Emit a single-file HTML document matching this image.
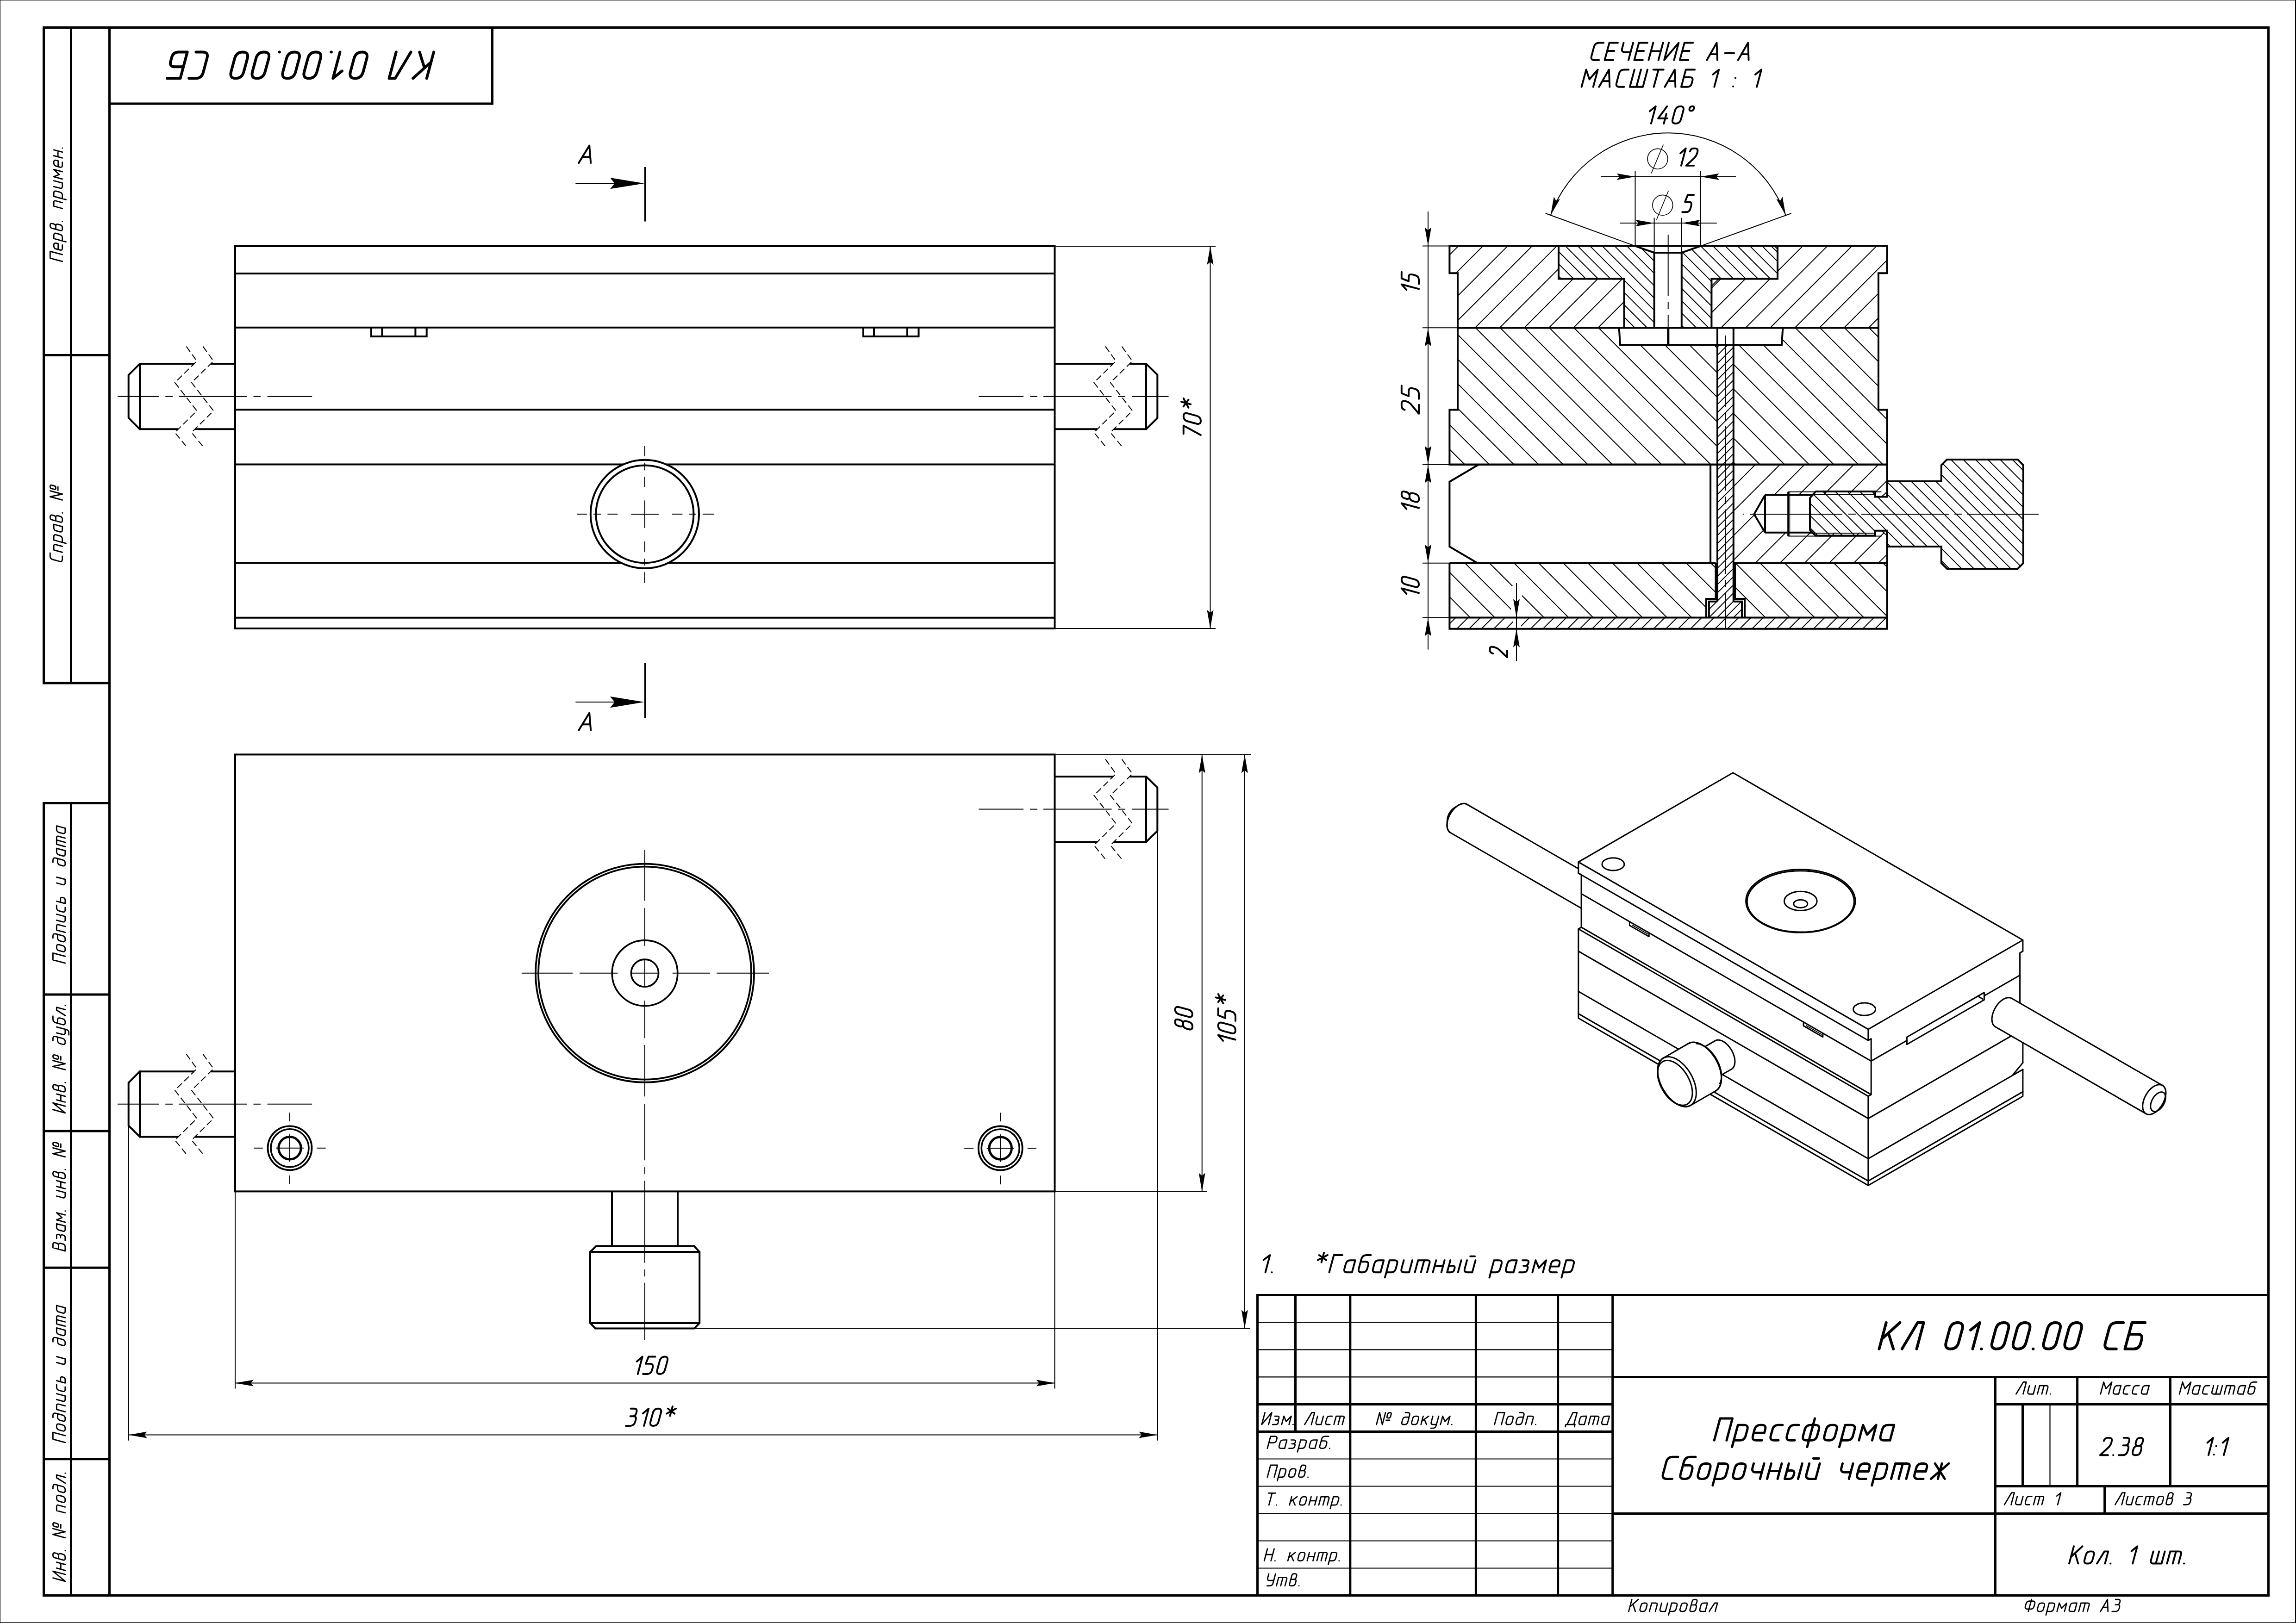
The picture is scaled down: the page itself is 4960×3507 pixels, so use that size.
<!DOCTYPE html>
<html><head><meta charset="utf-8"><title>КЛ 01.00.00 СБ</title>
<style>html,body{margin:0;padding:0;background:#fff}svg{display:block}
svg text{font-family:"Liberation Sans",sans-serif;font-style:italic;fill:#000;stroke:none}</style></head>
<body><svg xmlns="http://www.w3.org/2000/svg" width="4960" height="3507" viewBox="0 0 4960 3507" fill="none" stroke="#000" stroke-linecap="butt" stroke-linejoin="miter">
<rect x="0" y="0" width="4960" height="3507" fill="#fff" stroke="none"/>
<path d="M0.5 0L0.5 3507" stroke-width="1"/>
<path d="M0 0.5L4960 0.5" stroke-width="1"/>
<path d="M4959 0L4959 3507" stroke-width="2"/>
<path d="M0 3506.2L4960 3506.2" stroke-width="1.6"/>
<rect x="236.5" y="59.5" width="4664" height="3388" stroke-width="5"/>
<path d="M94.5 57L94.5 1478.5" stroke-width="5"/>
<path d="M153.5 59.5L153.5 1476" stroke-width="5"/>
<path d="M94.5 59.5L236.5 59.5" stroke-width="5"/>
<path d="M94.5 767.5L236.5 767.5" stroke-width="5"/>
<path d="M94.5 1476L236.5 1476" stroke-width="5"/>
<path d="M94.5 1733L94.5 3450" stroke-width="5"/>
<path d="M153.5 1735.5L153.5 3447.5" stroke-width="5"/>
<path d="M94.5 1735.5L236.5 1735.5" stroke-width="5"/>
<path d="M94.5 2149L236.5 2149" stroke-width="5"/>
<path d="M94.5 2444L236.5 2444" stroke-width="5"/>
<path d="M94.5 2739.3L236.5 2739.3" stroke-width="5"/>
<path d="M94.5 3152.7L236.5 3152.7" stroke-width="5"/>
<path d="M94.5 3447.5L236.5 3447.5" stroke-width="5"/>
<path d="M236.5 224L1063.5 224" stroke-width="5"/>
<path d="M1063.5 59.5L1063.5 226.5" stroke-width="5"/>
<path d="M2716.5 2798.4L4900.5 2798.4" stroke-width="5"/>
<path d="M2716.5 2795.9L2716.5 3447.5" stroke-width="5"/>
<path d="M2798.5 2798.4L2798.5 3093.5" stroke-width="5"/>
<path d="M2916.8 2798.4L2916.8 3447.5" stroke-width="5"/>
<path d="M3188.4 2798.4L3188.4 3447.5" stroke-width="5"/>
<path d="M3365.6 2798.4L3365.6 3447.5" stroke-width="5"/>
<path d="M3483.7 2798.4L3483.7 3447.5" stroke-width="5"/>
<path d="M2716.5 2857.4L3483.7 2857.4" stroke-width="2.2"/>
<path d="M2716.5 2916.4L3483.7 2916.4" stroke-width="2.2"/>
<path d="M2716.5 2975.4L3483.7 2975.4" stroke-width="2.2"/>
<path d="M2716.5 3034.4L3483.7 3034.4" stroke-width="5"/>
<path d="M2716.5 3093.5L3483.7 3093.5" stroke-width="5"/>
<path d="M2716.5 3152.5L3483.7 3152.5" stroke-width="2.2"/>
<path d="M2716.5 3211.5L3483.7 3211.5" stroke-width="2.2"/>
<path d="M2716.5 3270.5L3483.7 3270.5" stroke-width="2.2"/>
<path d="M2716.5 3329.5L3483.7 3329.5" stroke-width="2.2"/>
<path d="M2716.5 3388.5L3483.7 3388.5" stroke-width="2.2"/>
<path d="M3483.7 2975.4L4900.5 2975.4" stroke-width="5"/>
<path d="M3483.7 3270.5L4900.5 3270.5" stroke-width="5"/>
<path d="M4310.4 2975.4L4310.4 3447.5" stroke-width="5"/>
<path d="M4310.4 3034.4L4900.5 3034.4" stroke-width="5"/>
<path d="M4310.4 3211.5L4900.5 3211.5" stroke-width="5"/>
<path d="M4487.6 2975.4L4487.6 3211.5" stroke-width="5"/>
<path d="M4688.4 2975.4L4688.4 3211.5" stroke-width="5"/>
<path d="M4369.5 3034.4L4369.5 3211.5" stroke-width="5"/>
<path d="M4428.5 3034.4L4428.5 3211.5" stroke-width="2.2"/>
<path d="M4546.6 3211.5L4546.6 3270.5" stroke-width="5"/>
<path transform="translate(2724.3 3079.6) rotate(0) translate(1.4 -1.4)" d="M6.9 -25.9L0.0 0.0L21.7 -25.9L14.8 0.0M28.3 -18.1L34.2 -18.1Q38.2 -18.1 37.1 -14.0L37.1 -13.7Q36.0 -9.8 32.2 -9.8L29.6 -9.8M29.6 -9.8L33.0 -9.8Q37.0 -9.8 35.9 -5.7L35.6 -4.4Q34.4 0.0 30.1 -0.0L23.4 0.0M43.1 0.0L47.9 -18.1L52.8 -6.7L63.7 -18.1L58.9 0.0M67.5 0.0L67.8 0.0" stroke-width="2.72" stroke-linecap="round" stroke-linejoin="round"/>
<path transform="translate(2817 3079.6) rotate(0) translate(1.4 -1.4)" d="M0.0 0.0L15.5 -25.9L21.5 -25.9L14.6 0.0M28.0 -18.1L24.5 -5.4Q23.1 0.0 28.4 -0.0L35.6 0.0M40.5 -18.1L35.6 0.0M59.6 -18.1L54.3 -18.1Q49.0 -18.1 47.6 -12.7L45.6 -5.4Q44.2 0.0 49.4 -0.0L54.7 0.0M63.2 0.0L68.1 -18.1L82.2 -18.1Q86.2 -18.1 85.1 -14.0L81.3 0.0M77.1 -18.1L72.3 0.0" stroke-width="2.72" stroke-linecap="round" stroke-linejoin="round"/>
<path transform="translate(2972.1 3079.6) rotate(0) translate(1.4 -1.4)" d="M0.0 0.0L6.9 -25.9L12.7 0.0L19.6 -25.9M25.8 -14.0L26.1 -14.0Q29.6 -14.0 30.6 -17.6L31.8 -22.3Q32.8 -25.9 29.3 -25.9L28.8 -25.9Q25.2 -25.9 24.2 -22.3L23.0 -17.6Q22.0 -14.0 25.6 -14.0L25.8 -14.0M20.8 -9.3L28.4 -9.3M62.5 -25.9L67.1 -25.9Q73.2 -25.9 71.5 -19.7L67.7 -5.4Q66.2 0.0 60.9 -0.0L58.9 -0.0Q53.5 0.0 55.0 -5.4L56.4 -10.6Q57.8 -16.1 63.2 -16.1L70.5 -16.1M81.2 0.0L82.2 -0.0Q87.5 0.0 89.0 -5.4L90.9 -12.7Q92.4 -18.1 87.1 -18.1L85.0 -18.1Q79.7 -18.1 78.2 -12.7L76.3 -5.4Q74.8 0.0 80.2 -0.0L81.2 0.0M96.2 0.0L101.0 -18.1M98.1 -7.3L112.7 -18.1M103.5 -11.1L108.3 0.0M121.8 -18.1L118.4 -5.4Q117.0 0.0 122.3 -0.0L129.6 0.0M134.5 -18.1L129.0 2.3Q127.6 7.8 122.2 7.8L117.4 7.8M138.3 0.0L143.1 -18.1L147.9 -6.7L158.9 -18.1L154.0 0.0M162.6 0.0L162.9 0.0" stroke-width="2.72" stroke-linecap="round" stroke-linejoin="round"/>
<path transform="translate(3227.2 3079.6) rotate(0) translate(1.4 -1.4)" d="M0.0 0.0L6.9 -25.9L21.9 -25.9L14.9 0.0M30.1 0.0L31.1 -0.0Q36.5 0.0 38.0 -5.4L39.9 -12.7Q41.4 -18.1 36.0 -18.1L33.9 -18.1Q28.5 -18.1 27.1 -12.7L25.1 -5.4Q23.7 0.0 29.1 -0.0L30.1 0.0M54.3 -25.9L58.9 -25.9Q65.1 -25.9 63.4 -19.7L59.6 -5.4Q58.2 0.0 52.8 -0.0L50.7 -0.0Q45.3 0.0 46.7 -5.4L48.1 -10.6Q49.6 -16.1 55.0 -16.1L62.5 -16.1M66.9 0.0L71.8 -18.1L80.5 -18.1Q84.6 -18.1 83.5 -14.0L79.8 0.0M88.5 0.0L88.8 0.0" stroke-width="2.72" stroke-linecap="round" stroke-linejoin="round"/>
<path transform="translate(3380.1 3079.6) rotate(0) translate(4.2 -1.4)" d="M-2.8 4.7L-1.6 0.0L18.1 0.0L16.9 4.7M1.0 0.0L13.7 -25.9L22.5 -25.9L15.6 0.0M43.2 -18.1L35.7 -18.1Q30.3 -18.1 28.8 -12.7L26.9 -5.4Q25.4 0.0 30.8 -0.0L38.4 0.0M43.2 -18.1L38.4 0.0M47.2 0.0L52.0 -18.1L66.6 -18.1Q70.7 -18.1 69.6 -14.0L65.8 0.0M61.4 -18.1L56.5 0.0M92.5 -18.1L85.0 -18.1Q79.5 -18.1 78.1 -12.7L76.1 -5.4Q74.7 0.0 80.1 -0.0L87.6 0.0M92.5 -18.1L87.6 0.0" stroke-width="2.72" stroke-linecap="round" stroke-linejoin="round"/>
<path transform="translate(2736.5 3131) rotate(0) translate(1.4 -1.4)" d="M0.0 0.0L6.9 -25.9L16.3 -25.9Q21.9 -25.9 20.4 -20.5L19.6 -17.4Q18.1 -11.9 12.5 -11.9L3.2 -11.9M42.2 -18.1L34.5 -18.1Q28.9 -18.1 27.4 -12.7L25.5 -5.4Q24.0 0.0 29.6 -0.0L37.4 0.0M42.2 -18.1L37.4 0.0M51.3 -18.1L57.5 -18.1Q61.7 -18.1 60.6 -14.0L60.6 -13.7Q59.5 -9.8 55.5 -9.8L52.8 -9.8M52.8 -9.8L56.3 -9.8Q60.6 -9.8 59.5 -5.7L59.1 -4.4Q57.9 0.0 53.4 -0.0L46.5 0.0M64.9 7.8L71.9 -18.1M71.9 -18.1L79.6 -18.1Q85.2 -18.1 83.8 -12.7L81.8 -5.4Q80.4 0.0 74.8 -0.0L67.0 0.0M107.7 -18.1L99.9 -18.1Q94.3 -18.1 92.9 -12.7L90.9 -5.4Q89.5 0.0 95.1 -0.0L102.8 0.0M107.7 -18.1L102.8 0.0M132.2 -25.9L125.2 -25.9Q118.8 -25.9 117.2 -19.7L113.3 -5.4Q111.9 0.0 117.5 -0.0L119.6 -0.0Q125.2 0.0 126.7 -5.4L128.1 -10.6Q129.5 -16.1 123.9 -16.1L116.2 -16.1M134.3 0.0L134.6 0.0" stroke-width="2.72" stroke-linecap="round" stroke-linejoin="round"/>
<path transform="translate(2736.5 3193.2) rotate(0) translate(1.4 -1.4)" d="M0.0 0.0L6.9 -25.9L21.8 -25.9L14.8 0.0M21.5 7.8L28.4 -18.1M28.4 -18.1L35.8 -18.1Q41.2 -18.1 39.7 -12.7L37.8 -5.4Q36.3 0.0 31.0 -0.0L23.5 0.0M51.4 0.0L52.5 -0.0Q57.8 0.0 59.3 -5.4L61.2 -12.7Q62.7 -18.1 57.3 -18.1L55.3 -18.1Q49.9 -18.1 48.4 -12.7L46.5 -5.4Q45.0 0.0 50.4 -0.0L51.4 0.0M70.3 -14.0L72.3 -21.5Q73.5 -25.9 77.8 -25.9L79.1 -25.9Q84.0 -25.9 82.7 -21.0L82.0 -18.4Q80.8 -14.0 76.4 -14.0L70.3 -14.0M70.3 -14.0L77.7 -14.0Q82.6 -14.0 81.3 -9.1L80.2 -5.2Q78.8 0.0 73.7 -0.0L70.9 -0.0Q66.5 0.0 67.7 -4.4L70.3 -14.0M87.5 0.0L87.8 0.0" stroke-width="2.72" stroke-linecap="round" stroke-linejoin="round"/>
<path transform="translate(2739.2 3253.6) rotate(0) translate(-5.6 -1.4)" d="M6.9 -25.9L22.2 -25.9M14.5 -25.9L7.6 0.0M23.8 0.0L24.1 0.0M52.0 0.0L56.8 -18.1M53.9 -7.3L68.5 -18.1M59.2 -11.1L64.1 0.0M79.1 0.0L80.1 -0.0Q85.4 0.0 86.9 -5.4L88.8 -12.7Q90.3 -18.1 84.9 -18.1L82.9 -18.1Q77.6 -18.1 76.1 -12.7L74.2 -5.4Q72.7 0.0 78.1 -0.0L79.1 0.0M94.0 0.0L98.9 -18.1M106.7 0.0L111.6 -18.1M96.5 -9.3L109.2 -9.3M115.3 0.0L120.2 -18.1L134.4 -18.1Q138.4 -18.1 137.3 -14.0L133.6 0.0M129.3 -18.1L124.4 0.0M140.1 7.8L147.0 -18.1M147.0 -18.1L154.4 -18.1Q159.7 -18.1 158.3 -12.7L156.3 -5.4Q154.9 0.0 149.5 -0.0L142.2 0.0M163.5 0.0L163.7 0.0" stroke-width="2.72" stroke-linecap="round" stroke-linejoin="round"/>
<path transform="translate(2729.7 3374) rotate(0) translate(1.4 -1.4)" d="M0.0 0.0L6.9 -25.9M14.6 0.0L21.5 -25.9M3.6 -13.5L18.2 -13.5M23.1 0.0L23.4 0.0M51.0 0.0L55.9 -18.1M52.9 -7.3L67.4 -18.1M58.3 -11.1L63.1 0.0M77.9 0.0L78.9 -0.0Q84.2 0.0 85.6 -5.4L87.6 -12.7Q89.0 -18.1 83.7 -18.1L81.7 -18.1Q76.5 -18.1 75.0 -12.7L73.1 -5.4Q71.6 0.0 76.9 -0.0L77.9 0.0M92.7 0.0L97.6 -18.1M105.3 0.0L110.1 -18.1M95.2 -9.3L107.8 -9.3M113.8 0.0L118.7 -18.1L132.7 -18.1Q136.7 -18.1 135.6 -14.0L131.9 0.0M127.7 -18.1L122.8 0.0M138.3 7.8L145.3 -18.1M145.3 -18.1L152.6 -18.1Q157.8 -18.1 156.4 -12.7L154.4 -5.4Q153.0 0.0 147.7 -0.0L140.4 0.0M161.5 0.0L161.8 0.0" stroke-width="2.72" stroke-linecap="round" stroke-linejoin="round"/>
<path transform="translate(2735.8 3428) rotate(0) translate(-1.7 -1.4)" d="M6.9 -25.9L4.5 -16.8Q3.1 -11.4 8.5 -11.4L17.5 -11.4M21.4 -25.9L15.9 -5.4Q14.5 0.0 9.0 -0.0L3.1 0.0M23.2 0.0L28.1 -18.1L42.6 -18.1Q46.7 -18.1 45.6 -14.0L41.8 0.0M37.4 -18.1L32.5 0.0M54.4 -14.0L56.4 -21.5Q57.5 -25.9 61.9 -25.9L63.2 -25.9Q68.1 -25.9 66.8 -21.0L66.1 -18.4Q64.9 -14.0 60.6 -14.0L54.4 -14.0M54.4 -14.0L61.8 -14.0Q66.7 -14.0 65.4 -9.1L64.4 -5.2Q63.0 0.0 57.8 -0.0L55.0 -0.0Q50.6 0.0 51.8 -4.4L54.4 -14.0M71.8 0.0L72.0 0.0" stroke-width="2.72" stroke-linecap="round" stroke-linejoin="round"/>
<path transform="translate(3517 3483.4) rotate(0) translate(1.4 -1.4)" d="M0.0 0.0L6.9 -25.9M2.6 -9.8L20.8 -25.9M9.3 -15.5L14.4 0.0M29.6 0.0L30.6 -0.0Q36.0 0.0 37.5 -5.4L39.4 -12.7Q40.9 -18.1 35.5 -18.1L33.4 -18.1Q28.0 -18.1 26.6 -12.7L24.6 -5.4Q23.2 0.0 28.6 -0.0L29.6 0.0M44.8 0.0L49.7 -18.1L58.4 -18.1Q62.5 -18.1 61.4 -14.0L57.7 0.0M71.3 -18.1L67.9 -5.4Q66.4 0.0 71.8 -0.0L79.3 0.0M84.2 -18.1L79.3 0.0M86.0 7.8L92.9 -18.1M92.9 -18.1L100.4 -18.1Q105.8 -18.1 104.3 -12.7L102.4 -5.4Q100.9 0.0 95.5 -0.0L88.1 0.0M116.1 0.0L117.1 -0.0Q122.6 0.0 124.0 -5.4L126.0 -12.7Q127.4 -18.1 122.0 -18.1L119.9 -18.1Q114.5 -18.1 113.1 -12.7L111.1 -5.4Q109.7 0.0 115.1 -0.0L116.1 0.0M135.1 -14.0L137.1 -21.5Q138.3 -25.9 142.6 -25.9L143.9 -25.9Q148.8 -25.9 147.5 -21.0L146.8 -18.4Q145.6 -14.0 141.2 -14.0L135.1 -14.0M135.1 -14.0L142.5 -14.0Q147.4 -14.0 146.1 -9.1L145.1 -5.2Q143.7 0.0 138.5 -0.0L135.7 -0.0Q131.3 0.0 132.5 -4.4L135.1 -14.0M170.2 -18.1L162.7 -18.1Q157.3 -18.1 155.8 -12.7L153.9 -5.4Q152.4 0.0 157.8 -0.0L165.3 0.0M170.2 -18.1L165.3 0.0M174.0 0.0L185.6 -18.1L191.8 -18.1L186.9 0.0" stroke-width="2.72" stroke-linecap="round" stroke-linejoin="round"/>
<path transform="translate(4372.4 3483.4) rotate(0) translate(-0 -1.4)" d="M9.4 0.0L16.3 -25.9M10.8 -5.2L14.4 -5.2Q20.1 -5.2 21.7 -10.9L23.2 -16.6Q24.7 -22.3 19.0 -22.3L11.7 -22.3Q6.0 -22.3 4.4 -16.6L2.9 -10.9Q1.4 -5.2 7.1 -5.2L10.8 -5.2M34.1 0.0L35.1 -0.0Q40.6 0.0 42.1 -5.4L44.0 -12.7Q45.5 -18.1 40.0 -18.1L37.9 -18.1Q32.5 -18.1 31.0 -12.7L29.0 -5.4Q27.6 0.0 33.1 -0.0L34.1 0.0M47.4 7.8L54.3 -18.1M54.3 -18.1L61.9 -18.1Q67.3 -18.1 65.9 -12.7L63.9 -5.4Q62.5 0.0 57.0 -0.0L49.5 0.0M71.3 0.0L76.2 -18.1L81.2 -6.7L92.3 -18.1L87.5 0.0M114.2 -18.1L106.6 -18.1Q101.2 -18.1 99.7 -12.7L97.8 -5.4Q96.3 0.0 101.8 -0.0L109.3 0.0M114.2 -18.1L109.3 0.0M118.2 0.0L123.0 -18.1L137.6 -18.1Q141.8 -18.1 140.7 -14.0L136.9 0.0M132.4 -18.1L127.5 0.0M165.3 0.0L180.3 -25.9L181.4 0.0M170.4 -8.8L181.0 -8.8M197.7 -25.9L203.5 -25.9Q208.7 -25.9 207.3 -20.7L206.9 -19.2Q205.6 -14.5 200.9 -14.5L197.3 -14.5M200.7 -14.5L202.5 -14.5Q207.7 -14.5 206.3 -9.3L205.5 -6.5Q203.8 0.0 197.3 -0.0L190.3 0.0" stroke-width="2.72" stroke-linecap="round" stroke-linejoin="round"/>
<path transform="translate(4056.5 2917.8) rotate(0) translate(3 -3)" d="M0.0 0.0L15.2 -56.8M5.8 -21.6L44.8 -56.8M20.1 -34.1L30.7 0.0M49.3 0.0L83.1 -56.8L96.2 -56.8L81.0 0.0M154.4 0.0L154.4 -0.0Q168.0 0.0 171.8 -14.2L179.5 -42.6Q183.3 -56.8 169.6 -56.8L169.6 -56.8Q155.9 -56.8 152.1 -42.6L144.5 -14.2Q140.7 0.0 154.4 -0.0L154.4 0.0M197.6 -40.9L217.2 -56.8L202.0 0.0M220.6 0.0L221.1 0.0M254.0 0.0L254.0 -0.0Q267.7 0.0 271.5 -14.2L279.1 -42.6Q282.9 -56.8 269.2 -56.8L269.2 -56.8Q255.5 -56.8 251.7 -42.6L244.1 -14.2Q240.3 0.0 254.0 -0.0L254.0 0.0M300.0 0.0L300.0 -0.0Q313.6 0.0 317.4 -14.2L325.1 -42.6Q328.9 -56.8 315.2 -56.8L315.2 -56.8Q301.5 -56.8 297.7 -42.6L290.1 -14.2Q286.3 0.0 300.0 -0.0L300.0 0.0M332.3 0.0L332.8 0.0M365.6 0.0L365.6 -0.0Q379.3 0.0 383.1 -14.2L390.7 -42.6Q394.6 -56.8 380.9 -56.8L380.9 -56.8Q367.2 -56.8 363.4 -42.6L355.8 -14.2Q352.0 0.0 365.6 -0.0L365.6 0.0M411.6 0.0L411.6 -0.0Q425.3 0.0 429.1 -14.2L436.7 -42.6Q440.5 -56.8 426.8 -56.8L426.8 -56.8Q413.2 -56.8 409.4 -42.6L401.7 -14.2Q397.9 0.0 411.6 -0.0L411.6 0.0M527.6 -56.8L512.8 -56.8Q500.2 -56.8 496.7 -43.8L488.5 -13.1Q485.0 0.0 497.6 -0.0L512.3 0.0M574.6 -56.8L546.2 -56.8L530.9 0.0L550.1 -0.0Q561.6 0.0 564.8 -11.9L566.9 -19.9Q570.1 -31.8 558.6 -31.8L539.5 -31.8" stroke-width="5.97" stroke-linecap="round" stroke-linejoin="round"/>
<path transform="translate(3700.7 3114.8) rotate(0) translate(2.5 -2.5)" d="M0.0 0.0L12.7 -47.3L39.3 -47.3L26.7 0.0M38.5 14.2L51.2 -33.1M51.2 -33.1L64.5 -33.1Q74.2 -33.1 71.5 -23.2L67.9 -9.9Q65.3 0.0 55.6 -0.0L42.3 0.0M85.2 -16.1L108.2 -16.1L110.1 -23.2Q112.8 -33.1 103.1 -33.1L99.4 -33.1Q89.8 -33.1 87.1 -23.2L83.6 -9.9Q80.9 0.0 90.6 -0.0L103.0 0.0M147.7 -33.1L138.1 -33.1Q128.4 -33.1 125.7 -23.2L122.2 -9.9Q119.5 0.0 129.2 -0.0L138.8 0.0M182.7 -33.1L173.0 -33.1Q163.4 -33.1 160.7 -23.2L157.1 -9.9Q154.5 0.0 164.1 -0.0L173.8 0.0M200.8 14.2L217.3 -47.3M204.6 0.0L210.1 -0.0Q219.8 0.0 222.4 -9.9L226.0 -23.2Q228.6 -33.1 219.0 -33.1L207.9 -33.1Q198.3 -33.1 195.6 -23.2L192.1 -9.9Q189.4 0.0 199.1 -0.0L204.6 0.0M246.9 0.0L248.7 -0.0Q258.4 0.0 261.0 -9.9L264.6 -23.2Q267.3 -33.1 257.6 -33.1L253.9 -33.1Q244.3 -33.1 241.6 -23.2L238.1 -9.9Q235.4 0.0 245.1 -0.0L246.9 0.0M270.2 14.2L282.9 -33.1M282.9 -33.1L296.2 -33.1Q305.9 -33.1 303.2 -23.2L299.7 -9.9Q297.0 0.0 287.4 -0.0L274.0 0.0M312.6 0.0L321.5 -33.1L330.2 -12.3L350.0 -33.1L341.1 0.0M388.6 -33.1L375.3 -33.1Q365.6 -33.1 363.0 -23.2L359.4 -9.9Q356.8 0.0 366.4 -0.0L379.8 0.0M388.6 -33.1L379.8 0.0" stroke-width="4.96" stroke-linecap="round" stroke-linejoin="round"/>
<path transform="translate(3587.3 3198) rotate(0) translate(2.5 -2.5)" d="M35.3 -47.3L23.1 -47.3Q12.7 -47.3 9.8 -36.4L2.9 -10.9Q0.0 0.0 10.4 -0.0L22.6 0.0M73.2 -47.3L61.5 -47.3Q50.6 -47.3 47.6 -35.9L40.6 -9.9Q38.0 0.0 47.4 -0.0L51.1 -0.0Q60.5 0.0 63.2 -9.9L65.7 -19.4Q68.4 -29.3 58.9 -29.3L45.8 -29.3M87.2 0.0L89.0 -0.0Q98.5 0.0 101.2 -9.9L104.7 -23.2Q107.4 -33.1 97.9 -33.1L94.3 -33.1Q84.8 -33.1 82.1 -23.2L78.6 -9.9Q75.9 0.0 85.4 -0.0L87.2 0.0M110.1 14.2L122.7 -33.1M122.7 -33.1L135.8 -33.1Q145.3 -33.1 142.7 -23.2L139.1 -9.9Q136.5 0.0 127.0 -0.0L113.9 0.0M163.1 0.0L164.9 -0.0Q174.4 0.0 177.1 -9.9L180.6 -23.2Q183.3 -33.1 173.8 -33.1L170.2 -33.1Q160.7 -33.1 158.0 -23.2L154.5 -9.9Q151.8 0.0 161.3 -0.0L163.1 0.0M198.7 -33.1L196.2 -24.1Q193.6 -14.2 203.1 -14.2L216.2 -14.2M221.2 -33.1L212.4 0.0M227.7 0.0L236.6 -33.1M250.3 0.0L259.2 -33.1M232.3 -17.0L254.9 -17.0M274.6 -33.1L265.7 0.0L275.6 -0.0Q282.9 0.0 284.9 -7.6L285.7 -10.4Q287.7 -18.0 280.4 -18.0L270.5 -18.0M294.6 0.0L303.5 -33.1M318.8 -33.1L312.6 -9.9Q310.0 0.0 319.5 -0.0L332.6 0.0M341.4 -33.1L332.6 0.0M327.6 -44.0L339.8 -44.0M390.7 -33.1L388.3 -24.1Q385.6 -14.2 395.1 -14.2L408.2 -14.2M413.3 -33.1L404.4 0.0M424.1 -16.1L446.7 -16.1L448.6 -23.2Q451.2 -33.1 441.8 -33.1L438.1 -33.1Q428.6 -33.1 426.0 -23.2L422.4 -9.9Q419.8 0.0 429.3 -0.0L441.5 0.0M453.9 14.2L466.6 -33.1M466.6 -33.1L479.7 -33.1Q489.2 -33.1 486.5 -23.2L483.0 -9.9Q480.3 0.0 470.8 -0.0L457.7 0.0M495.7 0.0L504.6 -33.1L529.9 -33.1Q537.1 -33.1 535.1 -25.5L528.2 0.0M520.8 -33.1L512.0 0.0M547.9 -16.1L570.5 -16.1L572.4 -23.2Q575.1 -33.1 565.6 -33.1L561.9 -33.1Q552.5 -33.1 549.8 -23.2L546.2 -9.9Q543.6 0.0 553.1 -0.0L565.3 0.0M581.5 0.0L620.2 -33.1M590.4 -33.1L611.4 0.0M596.5 0.0L605.3 -33.1" stroke-width="4.96" stroke-linecap="round" stroke-linejoin="round"/>
<path transform="translate(4353.9 3013.7) rotate(0) translate(1.4 -1.4)" d="M0.0 0.0L15.8 -25.9L22.1 -25.9L15.2 0.0M28.9 -18.1L25.5 -5.4Q24.1 0.0 29.6 -0.0L37.2 0.0M42.0 -18.1L37.2 0.0M46.1 0.0L50.9 -18.1L65.6 -18.1Q69.8 -18.1 68.7 -14.0L64.9 0.0M60.4 -18.1L55.5 0.0M73.8 0.0L74.1 0.0" stroke-width="2.72" stroke-linecap="round" stroke-linejoin="round"/>
<path transform="translate(4536.3 3013.7) rotate(0) translate(1.4 -1.4)" d="M0.0 0.0L6.9 -25.9L11.8 -11.4L24.5 -25.9L17.5 0.0M44.1 -18.1L36.6 -18.1Q31.2 -18.1 29.7 -12.7L27.8 -5.4Q26.3 0.0 31.7 -0.0L39.2 0.0M44.1 -18.1L39.2 0.0M63.7 -18.1L58.3 -18.1Q52.9 -18.1 51.4 -12.7L49.5 -5.4Q48.0 0.0 53.4 -0.0L58.8 0.0M83.3 -18.1L77.9 -18.1Q72.5 -18.1 71.0 -12.7L69.1 -5.4Q67.6 0.0 73.0 -0.0L78.4 0.0M105.0 -18.1L97.5 -18.1Q92.1 -18.1 90.6 -12.7L88.7 -5.4Q87.2 0.0 92.6 -0.0L100.1 0.0M105.0 -18.1L100.1 0.0" stroke-width="2.72" stroke-linecap="round" stroke-linejoin="round"/>
<path transform="translate(4706.7 3013.7) rotate(0) translate(1.4 -1.4)" d="M0.0 0.0L6.9 -25.9L12.0 -11.4L24.9 -25.9L17.9 0.0M44.9 -18.1L37.3 -18.1Q31.7 -18.1 30.3 -12.7L28.3 -5.4Q26.9 0.0 32.4 -0.0L40.0 0.0M44.9 -18.1L40.0 0.0M64.9 -18.1L59.4 -18.1Q53.8 -18.1 52.4 -12.7L50.4 -5.4Q49.0 0.0 54.5 -0.0L60.1 0.0M73.9 -18.1L70.5 -5.4Q69.0 0.0 74.5 -0.0L88.0 0.0L92.8 -18.1M78.5 0.0L83.3 -18.1M96.9 0.0L101.8 -18.1L116.5 -18.1Q120.7 -18.1 119.6 -14.0L115.9 0.0M111.3 -18.1L106.4 0.0M142.9 -18.1L135.2 -18.1Q129.7 -18.1 128.2 -12.7L126.3 -5.4Q124.8 0.0 130.4 -0.0L138.0 0.0M142.9 -18.1L138.0 0.0M167.1 -25.9L160.2 -25.9Q153.9 -25.9 152.2 -19.7L148.4 -5.4Q147.0 0.0 152.5 -0.0L154.6 -0.0Q160.1 0.0 161.6 -5.4L163.0 -10.6Q164.4 -16.1 158.9 -16.1L151.3 -16.1" stroke-width="2.72" stroke-linecap="round" stroke-linejoin="round"/>
<path transform="translate(4534.8 3146.2) rotate(0) translate(2 -2)" d="M8.2 -30.6L8.2 -30.6Q10.0 -37.3 16.2 -37.3L19.5 -37.3Q27.1 -37.3 24.9 -29.1L24.3 -26.8Q22.7 -20.9 18.0 -16.5L0.0 0.0L17.1 0.0M28.3 0.0L28.6 0.0M50.8 -37.3L58.1 -37.3Q64.7 -37.3 62.7 -29.8L62.1 -27.6Q60.3 -20.9 54.3 -20.9L49.7 -20.9M54.0 -20.9L56.3 -20.9Q62.9 -20.9 60.9 -13.4L59.8 -9.3Q57.3 0.0 49.1 -0.0L40.2 0.0M82.4 -20.1L83.1 -20.1Q89.7 -20.1 91.7 -27.6L92.3 -29.8Q94.3 -37.3 87.7 -37.3L86.4 -37.3Q79.8 -37.3 77.8 -29.8L77.2 -27.6Q75.2 -20.1 81.8 -20.1L82.4 -20.1M77.1 0.0L78.4 -0.0Q85.6 0.0 87.8 -8.2L88.8 -11.9Q91.0 -20.1 83.8 -20.1L81.1 -20.1Q73.9 -20.1 71.7 -11.9L70.7 -8.2Q68.5 0.0 75.7 -0.0L77.1 0.0" stroke-width="3.91" stroke-linecap="round" stroke-linejoin="round"/>
<path transform="translate(4766.5 3146.2) rotate(0) translate(-5.2 -2)" d="M7.2 -26.8L19.5 -37.3L9.5 0.0M21.3 -1.1L21.6 -1.1M26.2 -19.4L26.5 -19.4M40.4 -26.8L52.7 -37.3L42.7 0.0" stroke-width="3.91" stroke-linecap="round" stroke-linejoin="round"/>
<path transform="translate(4328.7 3252.8) rotate(0) translate(1.4 -1.4)" d="M0.0 0.0L15.4 -25.9L21.4 -25.9L14.5 0.0M27.8 -18.1L24.4 -5.4Q23.0 0.0 28.2 -0.0L35.4 0.0M40.3 -18.1L35.4 0.0M59.3 -18.1L54.0 -18.1Q48.8 -18.1 47.3 -12.7L45.4 -5.4Q43.9 0.0 49.2 -0.0L54.4 0.0M62.9 0.0L67.7 -18.1L81.7 -18.1Q85.7 -18.1 84.6 -14.0L80.8 0.0M76.7 -18.1L71.9 0.0M113.0 -18.7L122.0 -25.9L115.0 0.0" stroke-width="2.72" stroke-linecap="round" stroke-linejoin="round"/>
<path transform="translate(4567.9 3252.8) rotate(0) translate(1.4 -1.4)" d="M0.0 0.0L15.3 -25.9L21.3 -25.9L14.3 0.0M27.6 -18.1L24.2 -5.4Q22.7 0.0 27.9 -0.0L35.1 0.0M39.9 -18.1L35.1 0.0M58.7 -18.1L53.5 -18.1Q48.3 -18.1 46.9 -12.7L44.9 -5.4Q43.5 0.0 48.7 -0.0L53.9 0.0M62.2 0.0L67.1 -18.1L80.9 -18.1Q84.9 -18.1 83.8 -14.0L80.0 0.0M76.0 -18.1L71.1 0.0M94.6 0.0L95.6 -0.0Q100.8 0.0 102.2 -5.4L104.2 -12.7Q105.6 -18.1 100.5 -18.1L98.5 -18.1Q93.3 -18.1 91.8 -12.7L89.9 -5.4Q88.4 0.0 93.6 -0.0L94.6 0.0M112.9 -14.0L114.9 -21.5Q116.1 -25.9 120.3 -25.9L121.6 -25.9Q126.3 -25.9 124.9 -21.0L124.2 -18.4Q123.1 -14.0 118.9 -14.0L112.9 -14.0M112.9 -14.0L120.1 -14.0Q124.8 -14.0 123.5 -9.1L122.4 -5.2Q121.0 0.0 116.1 -0.0L113.4 -0.0Q109.2 0.0 110.4 -4.4L112.9 -14.0M155.4 -25.9L160.8 -25.9Q165.8 -25.9 164.4 -20.7L164.0 -19.2Q162.7 -14.5 158.3 -14.5L154.8 -14.5M158.0 -14.5L159.8 -14.5Q164.7 -14.5 163.3 -9.3L162.5 -6.5Q160.8 0.0 154.6 -0.0L148.0 0.0" stroke-width="2.72" stroke-linecap="round" stroke-linejoin="round"/>
<path transform="translate(4468 3380.5) rotate(0) translate(2 -2)" d="M0.0 0.0L10.0 -37.3M3.8 -14.2L28.6 -37.3M12.9 -22.4L19.3 0.0M39.7 0.0L41.1 -0.0Q48.3 0.0 50.4 -7.8L53.2 -18.3Q55.3 -26.1 48.1 -26.1L45.3 -26.1Q38.1 -26.1 36.0 -18.3L33.2 -7.8Q31.1 0.0 38.3 -0.0L39.7 0.0M60.1 0.0L76.1 -26.1L84.3 -26.1L77.4 0.0M89.1 0.0L89.4 0.0M134.6 -26.8L147.1 -37.3L137.1 0.0M181.7 -26.1L176.8 -7.8Q174.7 0.0 182.0 -0.0L199.6 0.0L206.6 -26.1M187.2 0.0L194.2 -26.1M211.3 0.0L218.3 -26.1L237.7 -26.1Q243.2 -26.1 241.6 -20.1L236.2 0.0M230.8 -26.1L223.8 0.0M247.9 0.0L248.3 0.0" stroke-width="3.91" stroke-linecap="round" stroke-linejoin="round"/>
<path transform="translate(2727.5 2751.3) rotate(0) translate(-5.2 -2)" d="M7.2 -26.8L21.2 -37.3L11.2 0.0M24.9 0.0L25.3 0.0" stroke-width="3.91" stroke-linecap="round" stroke-linejoin="round"/>
<path transform="translate(2844.7 2751.3) rotate(0) translate(-6.2 -2)" d="M16.1 -21.6L21.6 -42.1M8.2 -26.5L29.4 -37.3M11.1 -37.3L26.5 -26.5M33.0 0.0L43.0 -37.3L61.4 -37.3M89.2 -26.1L78.5 -26.1Q70.8 -26.1 68.7 -18.3L65.9 -7.8Q63.8 0.0 71.6 -0.0L82.2 0.0M89.2 -26.1L82.2 0.0M123.0 -37.3L113.5 -37.3Q104.7 -37.3 102.3 -28.3L96.8 -7.8Q94.7 0.0 102.4 -0.0L105.3 -0.0Q113.0 0.0 115.1 -7.8L117.1 -15.3Q119.2 -23.1 111.5 -23.1L100.9 -23.1M150.8 -26.1L140.2 -26.1Q132.5 -26.1 130.4 -18.3L127.6 -7.8Q125.5 0.0 133.2 -0.0L143.8 0.0M150.8 -26.1L143.8 0.0M153.3 11.2L163.3 -26.1M163.3 -26.1L174.0 -26.1Q181.7 -26.1 179.6 -18.3L176.8 -7.8Q174.7 0.0 167.0 -0.0L156.3 0.0M194.1 -26.1L189.2 -7.8Q187.1 0.0 194.8 -0.0L205.5 0.0M212.5 -26.1L205.5 0.0M218.0 0.0L225.0 -26.1L245.5 -26.1Q251.4 -26.1 249.8 -20.1L244.4 0.0M238.2 -26.1L231.2 0.0M256.9 0.0L263.9 -26.1M275.2 0.0L282.2 -26.1M260.5 -13.4L278.8 -13.4M294.7 -26.1L287.7 0.0L295.8 -0.0Q301.6 0.0 303.2 -6.0L303.8 -8.2Q305.4 -14.2 299.6 -14.2L291.5 -14.2M311.2 0.0L318.2 -26.1M330.6 -26.1L325.7 -7.8Q323.6 0.0 331.4 -0.0L342.0 0.0M349.0 -26.1L342.0 0.0M337.7 -34.7L347.6 -34.7M379.0 11.2L389.0 -26.1M389.0 -26.1L399.6 -26.1Q407.3 -26.1 405.2 -18.3L402.4 -7.8Q400.3 0.0 392.6 -0.0L382.0 0.0M438.2 -26.1L427.5 -26.1Q419.8 -26.1 417.7 -18.3L414.9 -7.8Q412.8 0.0 420.5 -0.0L431.2 0.0M438.2 -26.1L431.2 0.0M450.6 -26.1L459.1 -26.1Q464.9 -26.1 463.3 -20.1L463.2 -19.8Q461.7 -14.2 456.2 -14.2L452.6 -14.2M452.6 -14.2L457.3 -14.2Q463.2 -14.2 461.6 -8.2L461.1 -6.3Q459.4 0.0 453.2 -0.0L443.6 0.0M471.9 0.0L478.9 -26.1L485.9 -9.7L501.6 -26.1L494.6 0.0M510.5 -12.7L528.9 -12.7L530.4 -18.3Q532.5 -26.1 524.8 -26.1L521.8 -26.1Q514.1 -26.1 512.0 -18.3L509.2 -7.8Q507.1 0.0 514.8 -0.0L524.7 0.0M534.9 11.2L544.9 -26.1M544.9 -26.1L555.6 -26.1Q563.3 -26.1 561.2 -18.3L558.4 -7.8Q556.3 0.0 548.6 -0.0L537.9 0.0" stroke-width="3.91" stroke-linecap="round" stroke-linejoin="round"/>
<path transform="translate(940 109.5) rotate(180) translate(3 -3)" d="M0.0 0.0L15.2 -56.8M5.8 -21.6L44.9 -56.8M20.1 -34.1L30.7 0.0M49.4 0.0L83.3 -56.8L96.4 -56.8L81.2 0.0M154.7 0.0L154.7 -0.0Q168.5 0.0 172.3 -14.2L179.9 -42.6Q183.7 -56.8 170.0 -56.8L170.0 -56.8Q156.3 -56.8 152.4 -42.6L144.8 -14.2Q141.0 0.0 154.7 -0.0L154.7 0.0M198.1 -40.9L217.7 -56.8L202.5 0.0M221.1 0.0L221.7 0.0M254.6 0.0L254.6 -0.0Q268.3 0.0 272.1 -14.2L279.8 -42.6Q283.6 -56.8 269.8 -56.8L269.8 -56.8Q256.1 -56.8 252.3 -42.6L244.7 -14.2Q240.9 0.0 254.6 -0.0L254.6 0.0M300.7 0.0L300.7 -0.0Q314.4 0.0 318.2 -14.2L325.8 -42.6Q329.7 -56.8 315.9 -56.8L315.9 -56.8Q302.2 -56.8 298.4 -42.6L290.8 -14.2Q287.0 0.0 300.7 -0.0L300.7 0.0M333.1 0.0L333.6 0.0M366.6 0.0L366.6 -0.0Q380.3 0.0 384.1 -14.2L391.7 -42.6Q395.5 -56.8 381.8 -56.8L381.8 -56.8Q368.1 -56.8 364.3 -42.6L356.6 -14.2Q352.8 0.0 366.6 -0.0L366.6 0.0M412.6 0.0L412.6 -0.0Q426.4 0.0 430.2 -14.2L437.8 -42.6Q441.6 -56.8 427.9 -56.8L427.9 -56.8Q414.2 -56.8 410.4 -42.6L402.7 -14.2Q398.9 0.0 412.6 -0.0L412.6 0.0M528.8 -56.8L514.0 -56.8Q501.4 -56.8 497.9 -43.8L489.7 -13.1Q486.2 0.0 498.8 -0.0L513.6 0.0M576.0 -56.8L547.5 -56.8L532.3 0.0L551.5 -0.0Q563.0 0.0 566.2 -11.9L568.3 -19.9Q571.5 -31.8 560.0 -31.8L540.8 -31.8" stroke-width="5.97" stroke-linecap="round" stroke-linejoin="round"/>
<path transform="translate(136.1 566.3) rotate(-90) translate(1.4 -1.4)" d="M0.0 0.0L7.1 -26.4L21.7 -26.4L14.7 0.0M25.6 -9.0L38.3 -9.0L39.3 -12.9Q40.8 -18.5 35.5 -18.5L33.5 -18.5Q28.2 -18.5 26.7 -12.9L24.7 -5.5Q23.2 0.0 28.5 -0.0L35.4 0.0M42.3 7.9L49.4 -18.5M49.4 -18.5L56.7 -18.5Q62.0 -18.5 60.6 -12.9L58.6 -5.5Q57.1 0.0 51.8 -0.0L44.5 0.0M69.5 -14.2L71.5 -21.9Q72.7 -26.4 77.0 -26.4L78.3 -26.4Q83.1 -26.4 81.8 -21.4L81.1 -18.7Q79.9 -14.2 75.6 -14.2L69.5 -14.2M69.5 -14.2L76.8 -14.2Q81.6 -14.2 80.3 -9.2L79.2 -5.3Q77.8 0.0 72.8 -0.0L70.0 -0.0Q65.7 0.0 66.9 -4.5L69.5 -14.2M86.4 0.0L86.6 0.0M114.4 0.0L119.4 -18.5L128.0 -18.5Q132.0 -18.5 130.9 -14.2L127.1 0.0M133.5 7.9L140.6 -18.5M140.6 -18.5L147.9 -18.5Q153.2 -18.5 151.7 -12.9L149.8 -5.5Q148.3 0.0 143.0 -0.0L135.7 0.0M161.8 -18.5L158.4 -5.5Q156.9 0.0 162.2 -0.0L169.5 0.0M174.4 -18.5L169.5 0.0M178.1 0.0L183.0 -18.5L187.8 -6.9L198.7 -18.5L193.8 0.0M204.7 -9.0L217.4 -9.0L218.4 -12.9Q219.9 -18.5 214.6 -18.5L212.6 -18.5Q207.3 -18.5 205.8 -12.9L203.8 -5.5Q202.3 0.0 207.6 -0.0L214.5 0.0M223.6 0.0L228.5 -18.5M236.2 0.0L241.1 -18.5M226.1 -9.5L238.7 -9.5M244.8 0.0L245.0 0.0" stroke-width="2.77" stroke-linecap="round" stroke-linejoin="round"/>
<path transform="translate(136.1 1216) rotate(-90) translate(1.4 -1.4)" d="M19.8 -26.4L12.9 -26.4Q7.1 -26.4 5.4 -20.3L1.6 -6.1Q0.0 0.0 5.8 -0.0L12.7 0.0M21.3 0.0L26.3 -18.5L34.9 -18.5Q39.0 -18.5 37.8 -14.2L34.0 0.0M40.5 7.9L47.6 -18.5M47.6 -18.5L55.0 -18.5Q60.3 -18.5 58.8 -12.9L56.8 -5.5Q55.3 0.0 50.0 -0.0L42.6 0.0M81.6 -18.5L74.2 -18.5Q68.9 -18.5 67.4 -12.9L65.4 -5.5Q64.0 0.0 69.3 -0.0L76.7 0.0M81.6 -18.5L76.7 0.0M89.1 -14.2L91.2 -21.9Q92.4 -26.4 96.7 -26.4L97.9 -26.4Q102.8 -26.4 101.4 -21.4L100.7 -18.7Q99.5 -14.2 95.2 -14.2L89.1 -14.2M89.1 -14.2L96.5 -14.2Q101.3 -14.2 99.9 -9.2L98.9 -5.3Q97.5 0.0 92.4 -0.0L89.6 -0.0Q85.3 0.0 86.5 -4.5L89.1 -14.2M106.1 0.0L106.4 0.0M134.3 0.0L141.3 -26.4L147.0 0.0L154.0 -26.4M160.2 -14.2L160.4 -14.2Q164.0 -14.2 165.0 -17.9L166.2 -22.7Q167.2 -26.4 163.7 -26.4L163.2 -26.4Q159.6 -26.4 158.6 -22.7L157.4 -17.9Q156.4 -14.2 159.9 -14.2L160.2 -14.2M155.1 -9.5L162.7 -9.5" stroke-width="2.77" stroke-linecap="round" stroke-linejoin="round"/>
<path transform="translate(142.2 2082.6) rotate(-90) translate(1.4 -1.4)" d="M0.0 0.0L7.1 -26.4L21.9 -26.4L14.8 0.0M29.9 0.0L30.9 -0.0Q36.3 0.0 37.8 -5.5L39.8 -12.9Q41.2 -18.5 35.9 -18.5L33.8 -18.5Q28.5 -18.5 27.0 -12.9L25.0 -5.5Q23.5 0.0 28.9 -0.0L29.9 0.0M54.1 -26.4L58.7 -26.4Q64.8 -26.4 63.1 -20.0L59.3 -5.5Q57.8 0.0 52.4 -0.0L50.4 -0.0Q45.0 0.0 46.5 -5.5L47.9 -10.8Q49.4 -16.3 54.7 -16.3L62.2 -16.3M66.5 0.0L71.4 -18.5L80.1 -18.5Q84.2 -18.5 83.1 -14.2L79.2 0.0M92.9 -18.5L89.4 -5.5Q87.9 0.0 93.3 -0.0L100.7 0.0M105.7 -18.5L100.7 0.0M125.1 -18.5L119.7 -18.5Q114.4 -18.5 112.9 -12.9L110.9 -5.5Q109.4 0.0 114.8 -0.0L120.2 0.0M133.8 -18.5L128.8 0.0L136.3 -0.0Q140.3 0.0 141.5 -4.2L141.9 -5.8Q143.0 -10.0 138.9 -10.0L131.5 -10.0M173.2 -18.5L169.7 -5.5Q168.2 0.0 173.6 -0.0L181.0 0.0M185.9 -18.5L181.0 0.0M218.0 -26.4L222.6 -26.4Q228.7 -26.4 227.0 -20.0L223.1 -5.5Q221.6 0.0 216.3 -0.0L214.2 -0.0Q208.9 0.0 210.3 -5.5L211.8 -10.8Q213.2 -16.3 218.6 -16.3L226.0 -16.3M248.1 -18.5L240.6 -18.5Q235.3 -18.5 233.8 -12.9L231.8 -5.5Q230.3 0.0 235.7 -0.0L243.1 0.0M248.1 -18.5L243.1 0.0M251.8 0.0L256.8 -18.5L271.1 -18.5Q275.2 -18.5 274.0 -14.2L270.2 0.0M266.0 -18.5L261.0 0.0M296.6 -18.5L289.2 -18.5Q283.8 -18.5 282.4 -12.9L280.4 -5.5Q278.9 0.0 284.3 -0.0L291.7 0.0M296.6 -18.5L291.7 0.0" stroke-width="2.77" stroke-linecap="round" stroke-linejoin="round"/>
<path transform="translate(142.2 2406.2) rotate(-90) translate(1.4 -1.4)" d="M7.1 -26.4L0.0 0.0L21.7 -26.4L14.7 0.0M23.3 0.0L28.2 -18.5M35.9 0.0L40.9 -18.5M25.8 -9.5L38.5 -9.5M48.4 -14.2L50.4 -21.9Q51.6 -26.4 55.9 -26.4L57.2 -26.4Q62.0 -26.4 60.7 -21.4L59.9 -18.7Q58.7 -14.2 54.4 -14.2L48.4 -14.2M48.4 -14.2L55.7 -14.2Q60.5 -14.2 59.2 -9.2L58.1 -5.3Q56.7 0.0 51.6 -0.0L48.9 -0.0Q44.6 0.0 45.8 -4.5L48.4 -14.2M65.3 0.0L65.6 0.0M93.4 0.0L100.5 -26.4L106.1 0.0L113.1 -26.4M119.2 -14.2L119.5 -14.2Q123.0 -14.2 124.0 -17.9L125.3 -22.7Q126.3 -26.4 122.8 -26.4L122.2 -26.4Q118.7 -26.4 117.7 -22.7L116.4 -17.9Q115.5 -14.2 119.0 -14.2L119.2 -14.2M114.2 -9.5L121.8 -9.5M155.9 -26.4L160.5 -26.4Q166.5 -26.4 164.8 -20.0L161.0 -5.5Q159.5 0.0 154.2 -0.0L152.1 -0.0Q146.8 0.0 148.3 -5.5L149.7 -10.8Q151.2 -16.3 156.5 -16.3L163.9 -16.3M173.0 -18.5L169.6 -5.5Q168.1 0.0 173.4 -0.0L180.7 0.0M185.7 -18.5L180.1 2.4Q178.6 7.9 173.3 7.9L168.5 7.9M209.1 -26.4L202.5 -26.4Q196.4 -26.4 194.7 -20.0L190.8 -5.5Q189.4 0.0 194.7 -0.0L196.7 -0.0Q202.0 0.0 203.5 -5.5L204.9 -10.8Q206.4 -16.3 201.1 -16.3L193.7 -16.3M210.6 0.0L222.1 -18.5L228.2 -18.5L223.3 0.0M231.9 0.0L232.1 0.0" stroke-width="2.77" stroke-linecap="round" stroke-linejoin="round"/>
<path transform="translate(142.2 2704.5) rotate(-90) translate(1.4 -1.4)" d="M0.0 0.0L7.1 -26.4L14.0 -26.4Q19.0 -26.4 17.6 -21.1L17.0 -19.0Q15.7 -14.2 11.3 -14.2L3.8 -14.2M3.8 -14.2L12.7 -14.2Q17.7 -14.2 16.3 -9.0L15.3 -5.3Q13.9 0.0 8.9 -0.0L0.0 0.0M27.3 -18.5L33.0 -18.5Q37.0 -18.5 35.8 -14.2L35.8 -14.0Q34.7 -10.0 31.0 -10.0L28.5 -10.0M28.5 -10.0L31.7 -10.0Q35.7 -10.0 34.6 -5.8L34.2 -4.5Q33.0 0.0 28.8 -0.0L22.3 0.0M58.8 -18.5L51.6 -18.5Q46.4 -18.5 44.9 -12.9L42.9 -5.5Q41.4 0.0 46.7 -0.0L53.9 0.0M58.8 -18.5L53.9 0.0M62.3 0.0L67.2 -18.5L71.8 -6.9L82.6 -18.5L77.7 0.0M86.1 0.0L86.4 0.0M118.6 -18.5L115.1 -5.5Q113.7 0.0 118.9 -0.0L126.1 0.0M131.0 -18.5L126.1 0.0M134.5 0.0L139.5 -18.5M146.9 0.0L151.9 -18.5M137.1 -9.5L149.5 -9.5M159.2 -14.2L161.2 -21.9Q162.4 -26.4 166.6 -26.4L167.9 -26.4Q172.6 -26.4 171.3 -21.4L170.5 -18.7Q169.3 -14.2 165.1 -14.2L159.2 -14.2M159.2 -14.2L166.4 -14.2Q171.1 -14.2 169.7 -9.2L168.7 -5.3Q167.3 0.0 162.3 -0.0L159.6 -0.0Q155.4 0.0 156.6 -4.5L159.2 -14.2M175.7 0.0L176.0 0.0M203.3 0.0L210.3 -26.4L215.7 0.0L222.7 -26.4M228.7 -14.2L228.9 -14.2Q232.4 -14.2 233.4 -17.9L234.6 -22.7Q235.6 -26.4 232.2 -26.4L231.7 -26.4Q228.2 -26.4 227.2 -22.7L225.9 -17.9Q224.9 -14.2 228.4 -14.2L228.7 -14.2M223.7 -9.5L231.1 -9.5" stroke-width="2.77" stroke-linecap="round" stroke-linejoin="round"/>
<path transform="translate(142.2 3118.3) rotate(-90) translate(1.4 -1.4)" d="M0.0 0.0L7.1 -26.4L21.9 -26.4L14.8 0.0M29.8 0.0L30.9 -0.0Q36.2 0.0 37.7 -5.5L39.7 -12.9Q41.2 -18.5 35.8 -18.5L33.8 -18.5Q28.4 -18.5 26.9 -12.9L24.9 -5.5Q23.5 0.0 28.8 -0.0L29.8 0.0M54.0 -26.4L58.6 -26.4Q64.7 -26.4 63.0 -20.0L59.1 -5.5Q57.6 0.0 52.3 -0.0L50.2 -0.0Q44.9 0.0 46.4 -5.5L47.8 -10.8Q49.3 -16.3 54.6 -16.3L62.0 -16.3M66.3 0.0L71.3 -18.5L79.9 -18.5Q84.0 -18.5 82.9 -14.2L79.1 0.0M92.7 -18.5L89.2 -5.5Q87.7 0.0 93.1 -0.0L100.5 0.0M105.4 -18.5L100.5 0.0M124.8 -18.5L119.5 -18.5Q114.1 -18.5 112.6 -12.9L110.6 -5.5Q109.2 0.0 114.5 -0.0L119.9 0.0M133.5 -18.5L128.5 0.0L135.9 -0.0Q140.0 0.0 141.1 -4.2L141.6 -5.8Q142.7 -10.0 138.6 -10.0L131.2 -10.0M172.8 -18.5L169.3 -5.5Q167.8 0.0 173.2 -0.0L180.6 0.0M185.5 -18.5L180.6 0.0M217.5 -26.4L222.1 -26.4Q228.2 -26.4 226.5 -20.0L222.6 -5.5Q221.1 0.0 215.8 -0.0L213.7 -0.0Q208.4 0.0 209.8 -5.5L211.3 -10.8Q212.7 -16.3 218.1 -16.3L225.5 -16.3M247.5 -18.5L240.1 -18.5Q234.7 -18.5 233.2 -12.9L231.3 -5.5Q229.8 0.0 235.1 -0.0L242.5 0.0M247.5 -18.5L242.5 0.0M251.2 0.0L256.1 -18.5L270.4 -18.5Q274.5 -18.5 273.4 -14.2L269.6 0.0M265.3 -18.5L260.4 0.0M295.9 -18.5L288.5 -18.5Q283.2 -18.5 281.7 -12.9L279.7 -5.5Q278.2 0.0 283.6 -0.0L291.0 0.0M295.9 -18.5L291.0 0.0" stroke-width="2.77" stroke-linecap="round" stroke-linejoin="round"/>
<path transform="translate(142.2 3418.2) rotate(-90) translate(1.4 -1.4)" d="M7.1 -26.4L0.0 0.0L21.8 -26.4L14.8 0.0M23.4 0.0L28.4 -18.5M36.2 0.0L41.1 -18.5M26.0 -9.5L38.7 -9.5M48.7 -14.2L50.7 -21.9Q51.9 -26.4 56.2 -26.4L57.5 -26.4Q62.4 -26.4 61.0 -21.4L60.3 -18.7Q59.1 -14.2 54.8 -14.2L48.7 -14.2M48.7 -14.2L56.0 -14.2Q60.9 -14.2 59.5 -9.2L58.5 -5.3Q57.1 0.0 52.0 -0.0L49.2 -0.0Q44.8 0.0 46.0 -4.5L48.7 -14.2M65.7 0.0L66.0 0.0M94.0 0.0L101.1 -26.4L106.8 0.0L113.8 -26.4M120.0 -14.2L120.2 -14.2Q123.8 -14.2 124.8 -17.9L126.1 -22.7Q127.1 -26.4 123.5 -26.4L123.0 -26.4Q119.4 -26.4 118.4 -22.7L117.2 -17.9Q116.2 -14.2 119.7 -14.2L120.0 -14.2M114.9 -9.5L122.5 -9.5M147.8 0.0L152.7 -18.5L161.4 -18.5Q165.5 -18.5 164.3 -14.2L160.5 0.0M175.5 0.0L176.6 -0.0Q181.9 0.0 183.4 -5.5L185.4 -12.9Q186.9 -18.5 181.5 -18.5L179.5 -18.5Q174.1 -18.5 172.6 -12.9L170.7 -5.5Q169.2 0.0 174.5 -0.0L175.5 0.0M199.7 -26.4L204.3 -26.4Q210.4 -26.4 208.7 -20.0L204.8 -5.5Q203.3 0.0 198.0 -0.0L195.9 -0.0Q190.6 0.0 192.1 -5.5L193.5 -10.8Q195.0 -16.3 200.3 -16.3L207.7 -16.3M212.0 0.0L223.5 -18.5L229.7 -18.5L224.7 0.0M233.4 0.0L233.6 0.0" stroke-width="2.77" stroke-linecap="round" stroke-linejoin="round"/>
<rect x="508" y="532" width="1770.5" height="826" stroke-width="4"/>
<path d="M508 591L2278.5 591" stroke-width="4"/>
<path d="M508 707.7L2278.5 707.7" stroke-width="4"/>
<path d="M508 885.3L2278.5 885.3" stroke-width="4"/>
<path d="M508 1334.8L2278.5 1334.8" stroke-width="4"/>
<path d="M508 1003.6L1346 1003.6" stroke-width="4"/>
<path d="M1439.8 1003.6L2278.5 1003.6" stroke-width="4"/>
<path d="M508 1216.5L1342.3 1216.5" stroke-width="4"/>
<path d="M1443.5 1216.5L2278.5 1216.5" stroke-width="4"/>
<circle cx="1392.9" cy="1110.9" r="117.1" stroke-width="4"/>
<circle cx="1392.9" cy="1110.9" r="105.5" stroke-width="4"/>
<path d="M1245.9 1110.9L1267.9 1110.9" stroke-width="2"/>
<path d="M1392.9 963.9L1392.9 985.9" stroke-width="2"/>
<path d="M1281.9 1110.9L1298.4 1110.9" stroke-width="2"/>
<path d="M1392.9 999.9L1392.9 1016.4" stroke-width="2"/>
<path d="M1312.4 1110.9L1334.4 1110.9" stroke-width="2"/>
<path d="M1392.9 1030.4L1392.9 1052.4" stroke-width="2"/>
<path d="M1363.4 1110.9L1422.9 1110.9" stroke-width="2"/>
<path d="M1392.9 1081.4L1392.9 1140.9" stroke-width="2"/>
<path d="M1451.9 1110.9L1474.4 1110.9" stroke-width="2"/>
<path d="M1392.9 1169.9L1392.9 1192.4" stroke-width="2"/>
<path d="M1488.9 1110.9L1503.9 1110.9" stroke-width="2"/>
<path d="M1392.9 1206.9L1392.9 1221.9" stroke-width="2"/>
<path d="M1518.4 1110.9L1541.9 1110.9" stroke-width="2"/>
<path d="M1392.9 1236.4L1392.9 1259.9" stroke-width="2"/>
<path d="M802 707.7L802 727L921.7 727L921.7 707.7" stroke-width="4"/>
<path d="M825.5 707.7L825.5 727" stroke-width="4"/>
<path d="M897.4 707.7L897.4 727" stroke-width="4"/>
<path d="M1865 707.7L1865 727L1984.5 727L1984.5 707.7" stroke-width="4"/>
<path d="M1888 707.7L1888 727" stroke-width="4"/>
<path d="M1960 707.7L1960 727" stroke-width="4"/>
<path d="M302 786.1L277.7 810.4L277.7 903L302 927.3" stroke-width="4"/>
<path d="M302 784.1L302 929.3" stroke-width="4"/>
<path d="M302 786.1L419.3 786.1" stroke-width="4"/>
<path d="M455.3 786.1L508 786.1" stroke-width="4"/>
<path d="M302 927.3L385.1 927.3" stroke-width="4"/>
<path d="M421.1 927.3L508 927.3" stroke-width="4"/>
<path d="M402.5 748.7L425.3 780.2L377.8 826.7L425.3 887.7L377.8 934.5L402.5 964.7" stroke-width="2" stroke-dasharray="14 7"/>
<path d="M438.5 748.7L461.3 780.2L413.8 826.7L461.3 887.7L413.8 934.5L438.5 964.7" stroke-width="2" stroke-dasharray="14 7"/>
<path d="M254 856.7L343.2 856.7" stroke-width="2"/>
<path d="M357.2 856.7L373.2 856.7" stroke-width="2"/>
<path d="M386.3 856.7L533.5 856.7" stroke-width="2"/>
<path d="M547.5 856.7L563 856.7" stroke-width="2"/>
<path d="M577.6 856.7L674.2 856.7" stroke-width="2"/>
<path d="M2476 786.1L2500.3 809.9L2500.3 903.5L2476 927.3" stroke-width="4"/>
<path d="M2476 784.1L2476 929.3" stroke-width="4"/>
<path d="M2278.5 786.1L2404.8 786.1" stroke-width="4"/>
<path d="M2440.3 786.1L2476 786.1" stroke-width="4"/>
<path d="M2278.5 927.3L2370.6 927.3" stroke-width="4"/>
<path d="M2406.1 927.3L2476 927.3" stroke-width="4"/>
<path d="M2388 748.7L2410.8 780.2L2363.3 826.7L2410.8 887.7L2363.3 934.5L2388 964.7" stroke-width="2" stroke-dasharray="14 7"/>
<path d="M2423.5 748.7L2446.3 780.2L2398.8 826.7L2446.3 887.7L2398.8 934.5L2423.5 964.7" stroke-width="2" stroke-dasharray="14 7"/>
<path d="M2114.3 856.7L2211 856.7" stroke-width="2"/>
<path d="M2225 856.7L2241 856.7" stroke-width="2"/>
<path d="M2254 856.7L2401.5 856.7" stroke-width="2"/>
<path d="M2415.5 856.7L2431 856.7" stroke-width="2"/>
<path d="M2445 856.7L2524.5 856.7" stroke-width="2"/>
<path d="M1393.5 360.9L1393.5 478.5" stroke-width="3.3"/>
<path d="M1393.5 1432.7L1393.5 1551.9" stroke-width="3.3"/>
<path d="M1243.3 396.2L1330 396.2" stroke-width="2"/>
<path d="M1392 396.2L1318 408.3L1328 396.2L1318 384.1Z" fill="#000" stroke="none"/>
<path d="M1243.3 1517.1L1330 1517.1" stroke-width="2"/>
<path d="M1392 1517.1L1318 1529.2L1328 1517.1L1318 1505Z" fill="#000" stroke="none"/>
<path transform="translate(1248.2 354.1) rotate(0) translate(2 -2)" d="M0.0 0.0L23.0 -37.5L26.0 0.0M7.8 -12.8L25.0 -12.8" stroke-width="3.94" stroke-linecap="round" stroke-linejoin="round"/>
<path transform="translate(1248.2 1580) rotate(0) translate(2 -2)" d="M0.0 0.0L23.0 -37.5L26.0 0.0M7.8 -12.8L25.0 -12.8" stroke-width="3.94" stroke-linecap="round" stroke-linejoin="round"/>
<path d="M2278.5 532L2626 532" stroke-width="2"/>
<path d="M2278.5 1358L2626 1358" stroke-width="2"/>
<path d="M2614.5 532L2614.5 1358" stroke-width="2"/>
<path d="M2614.5 532L2621.5 572L2614.5 566L2607.5 572Z" fill="#000" stroke="none"/>
<path d="M2614.5 1358L2607.5 1318L2614.5 1324L2621.5 1318Z" fill="#000" stroke="none"/>
<path transform="translate(2596 942) rotate(-90) translate(-5.6 -2)" d="M10.0 -37.3L27.9 -37.3L7.6 0.0M38.2 0.0L38.2 -0.0Q46.8 0.0 49.3 -9.3L54.3 -28.0Q56.8 -37.3 48.2 -37.3L48.2 -37.3Q39.6 -37.3 37.1 -28.0L32.1 -9.3Q29.6 0.0 38.2 -0.0L38.2 0.0M74.0 -21.6L79.5 -42.1M66.7 -26.5L86.8 -37.3M69.5 -37.3L83.9 -26.5" stroke-width="3.91" stroke-linecap="round" stroke-linejoin="round"/>
<rect x="508" y="1630.4" width="1770.5" height="944" stroke-width="4"/>
<circle cx="1393" cy="2102.7" r="236" stroke-width="3.8"/>
<circle cx="1393" cy="2102.7" r="230" stroke-width="3.8"/>
<circle cx="1393" cy="2102.7" r="70.8" stroke-width="3.6"/>
<circle cx="1393" cy="2102.7" r="29.6" stroke-width="3.6"/>
<path d="M1126.9 2102.7L1237.2 2102.7" stroke-width="2"/>
<path d="M1252.1 2102.7L1334.4 2102.7" stroke-width="2"/>
<path d="M1363.9 2102.7L1423.5 2102.7" stroke-width="2"/>
<path d="M1452.8 2102.7L1533.8 2102.7" stroke-width="2"/>
<path d="M1548.2 2102.7L1661 2102.7" stroke-width="2"/>
<path d="M1393 1836.6L1393 1946.4" stroke-width="2"/>
<path d="M1393 1962.3L1393 2043.7" stroke-width="2"/>
<path d="M1393 2073.2L1393 2132.4" stroke-width="2"/>
<path d="M1393 2162L1393 2243.3" stroke-width="2"/>
<path d="M1393 2258L1393 2369.3" stroke-width="2"/>
<path d="M1393 2385.7L1393 2507.3" stroke-width="2"/>
<path d="M1393 2522.3L1393 2536.6" stroke-width="2"/>
<path d="M1393 2551.6L1393 2728.8" stroke-width="2"/>
<path d="M1393 2743.1L1393 2758.2" stroke-width="2"/>
<path d="M1393 2771.7L1393 2895" stroke-width="2"/>
<circle cx="626" cy="2480.8" r="47.5" stroke-width="3.8"/>
<circle cx="626" cy="2480.8" r="41" stroke-width="3.6"/>
<circle cx="626" cy="2480.8" r="24.2" stroke-width="5"/>
<path d="M596.2 2480.8L655.8 2480.8" stroke-width="2"/>
<path d="M626 2451L626 2510.6" stroke-width="2"/>
<path d="M548 2480.8L567.8 2480.8" stroke-width="2"/>
<path d="M684.5 2480.8L703.6 2480.8" stroke-width="2"/>
<path d="M626 2404.1L626 2422.9" stroke-width="2"/>
<path d="M626 2540L626 2559" stroke-width="2"/>
<circle cx="2161.2" cy="2481" r="47.5" stroke-width="3.8"/>
<circle cx="2161.2" cy="2481" r="41" stroke-width="3.6"/>
<circle cx="2161.2" cy="2481" r="24.2" stroke-width="5"/>
<path d="M2131.4 2481L2191 2481" stroke-width="2"/>
<path d="M2161.2 2451.2L2161.2 2510.8" stroke-width="2"/>
<path d="M2083.2 2481L2103 2481" stroke-width="2"/>
<path d="M2219.7 2481L2238.8 2481" stroke-width="2"/>
<path d="M2161.2 2404.3L2161.2 2423.1" stroke-width="2"/>
<path d="M2161.2 2540.2L2161.2 2559.2" stroke-width="2"/>
<path d="M302 2315.2L277.7 2339.5L277.7 2432.1L302 2456.4" stroke-width="4"/>
<path d="M302 2313.2L302 2458.4" stroke-width="4"/>
<path d="M302 2315.2L419.3 2315.2" stroke-width="4"/>
<path d="M455.3 2315.2L508 2315.2" stroke-width="4"/>
<path d="M302 2456.4L385.1 2456.4" stroke-width="4"/>
<path d="M421.1 2456.4L508 2456.4" stroke-width="4"/>
<path d="M402.5 2277.8L425.3 2309.3L377.8 2355.8L425.3 2416.8L377.8 2463.6L402.5 2493.8" stroke-width="2" stroke-dasharray="14 7"/>
<path d="M438.5 2277.8L461.3 2309.3L413.8 2355.8L461.3 2416.8L413.8 2463.6L438.5 2493.8" stroke-width="2" stroke-dasharray="14 7"/>
<path d="M254 2385.8L343.2 2385.8" stroke-width="2"/>
<path d="M357.2 2385.8L373.2 2385.8" stroke-width="2"/>
<path d="M386.3 2385.8L533.5 2385.8" stroke-width="2"/>
<path d="M547.5 2385.8L563 2385.8" stroke-width="2"/>
<path d="M577.6 2385.8L674.2 2385.8" stroke-width="2"/>
<path d="M2476 1678L2500.3 1701.8L2500.3 1795.4L2476 1819.2" stroke-width="4"/>
<path d="M2476 1676L2476 1821.2" stroke-width="4"/>
<path d="M2278.5 1678L2404.8 1678" stroke-width="4"/>
<path d="M2440.3 1678L2476 1678" stroke-width="4"/>
<path d="M2278.5 1819.2L2370.6 1819.2" stroke-width="4"/>
<path d="M2406.1 1819.2L2476 1819.2" stroke-width="4"/>
<path d="M2388 1640.6L2410.8 1672.1L2363.3 1718.6L2410.8 1779.6L2363.3 1826.4L2388 1856.6" stroke-width="2" stroke-dasharray="14 7"/>
<path d="M2423.5 1640.6L2446.3 1672.1L2398.8 1718.6L2446.3 1779.6L2398.8 1826.4L2423.5 1856.6" stroke-width="2" stroke-dasharray="14 7"/>
<path d="M2114.3 1748.6L2211 1748.6" stroke-width="2"/>
<path d="M2225 1748.6L2241 1748.6" stroke-width="2"/>
<path d="M2254 1748.6L2401.5 1748.6" stroke-width="2"/>
<path d="M2415.5 1748.6L2431 1748.6" stroke-width="2"/>
<path d="M2445 1748.6L2524.5 1748.6" stroke-width="2"/>
<path d="M1322 2574.4L1322 2692.6" stroke-width="4"/>
<path d="M1464 2574.4L1464 2692.6" stroke-width="4"/>
<path d="M1288 2692.6L1499.4 2692.6L1511.2 2705L1511.2 2859L1500 2870.5L1286 2870.5L1275 2859L1275 2705Z" stroke-width="4"/>
<path d="M1275 2705L1511.2 2705" stroke-width="4"/>
<path d="M1275 2859L1511.2 2859" stroke-width="4"/>
<path d="M508 2574.4L508 3000.5" stroke-width="2"/>
<path d="M2278.5 2574.4L2278.5 3000.5" stroke-width="2"/>
<path d="M508 2988.4L2278.5 2988.4" stroke-width="2"/>
<path d="M508 2988.4L548 2981.4L542 2988.4L548 2995.4Z" fill="#000" stroke="none"/>
<path d="M2278.5 2988.4L2238.5 2995.4L2244.5 2988.4L2238.5 2981.4Z" fill="#000" stroke="none"/>
<path transform="translate(1373.8 2971) rotate(0) translate(-5.3 -2)" d="M7.2 -27.0L19.3 -37.5L9.3 0.0M47.1 -37.5L32.6 -37.5L26.5 -22.1L35.7 -22.1Q43.7 -22.1 41.3 -13.1L40.2 -9.0Q37.7 0.0 29.8 -0.0L20.5 0.0M57.3 0.0L57.3 -0.0Q65.6 0.0 68.1 -9.4L73.1 -28.1Q75.6 -37.5 67.3 -37.5L67.3 -37.5Q59.0 -37.5 56.5 -28.1L51.5 -9.4Q49.0 0.0 57.3 -0.0L57.3 0.0" stroke-width="3.93" stroke-linecap="round" stroke-linejoin="round"/>
<path d="M277.7 2432.1L277.7 3112.7" stroke-width="2"/>
<path d="M2500.3 1795.4L2500.3 3112.7" stroke-width="2"/>
<path d="M277.7 3100.6L2500.3 3100.6" stroke-width="2"/>
<path d="M277.7 3100.6L317.7 3093.6L311.7 3100.6L317.7 3107.6Z" fill="#000" stroke="none"/>
<path d="M2500.3 3100.6L2460.3 3107.6L2466.3 3100.6L2460.3 3093.6Z" fill="#000" stroke="none"/>
<path transform="translate(1349.9 3083.1) rotate(0) translate(2 -2)" d="M10.7 -37.3L18.3 -37.3Q25.2 -37.3 23.2 -29.8L22.6 -27.6Q20.8 -20.9 14.6 -20.9L9.7 -20.9M14.2 -20.9L16.6 -20.9Q23.5 -20.9 21.5 -13.4L20.4 -9.3Q17.9 0.0 9.3 -0.0L0.0 0.0M36.9 -26.8L49.3 -37.3L39.3 0.0M59.7 0.0L59.7 -0.0Q68.3 0.0 70.8 -9.3L75.8 -28.0Q78.3 -37.3 69.7 -37.3L69.7 -37.3Q61.0 -37.3 58.5 -28.0L53.5 -9.3Q51.0 0.0 59.7 -0.0L59.7 0.0M95.5 -21.6L101.0 -42.1M88.1 -26.5L108.3 -37.3M91.0 -37.3L105.4 -26.5" stroke-width="3.91" stroke-linecap="round" stroke-linejoin="round"/>
<path d="M2278.5 1630.4L2702 1630.4" stroke-width="2"/>
<path d="M2278.5 2574.4L2607.5 2574.4" stroke-width="2"/>
<path d="M2596.7 1630.4L2596.7 2574.4" stroke-width="2"/>
<path d="M2596.7 1630.4L2603.7 1670.4L2596.7 1664.4L2589.7 1670.4Z" fill="#000" stroke="none"/>
<path d="M2596.7 2574.4L2589.7 2534.4L2596.7 2540.4L2603.7 2534.4Z" fill="#000" stroke="none"/>
<path transform="translate(2577.9 2228.2) rotate(-90) translate(2 -2)" d="M13.5 -20.1L14.1 -20.1Q20.4 -20.1 22.4 -27.6L23.0 -29.8Q25.0 -37.3 18.7 -37.3L17.5 -37.3Q11.2 -37.3 9.2 -29.8L8.6 -27.6Q6.6 -20.1 12.9 -20.1L13.5 -20.1M8.1 0.0L9.4 -0.0Q16.2 0.0 18.4 -8.2L19.4 -11.9Q21.6 -20.1 14.7 -20.1L12.3 -20.1Q5.4 -20.1 3.2 -11.9L2.2 -8.2Q0.0 0.0 6.9 -0.0L8.1 0.0M34.6 0.0L34.6 -0.0Q42.4 0.0 44.9 -9.3L49.9 -28.0Q52.4 -37.3 44.6 -37.3L44.6 -37.3Q36.8 -37.3 34.3 -28.0L29.3 -9.3Q26.8 0.0 34.6 -0.0L34.6 0.0" stroke-width="3.91" stroke-linecap="round" stroke-linejoin="round"/>
<path d="M1501 2870.5L2701 2870.5" stroke-width="2"/>
<path d="M2688.8 1630.4L2688.8 2870.5" stroke-width="2"/>
<path d="M2688.8 1630.4L2695.8 1670.4L2688.8 1664.4L2681.8 1670.4Z" fill="#000" stroke="none"/>
<path d="M2688.8 2870.5L2681.8 2830.5L2688.8 2836.5L2695.8 2830.5Z" fill="#000" stroke="none"/>
<path transform="translate(2670.9 2250.9) rotate(-90) translate(-5.2 -2)" d="M7.2 -26.8L19.6 -37.3L9.6 0.0M29.9 0.0L29.9 -0.0Q38.5 0.0 41.0 -9.3L46.0 -28.0Q48.5 -37.3 39.9 -37.3L39.9 -37.3Q31.3 -37.3 28.8 -28.0L23.8 -9.3Q21.3 0.0 29.9 -0.0L29.9 0.0M77.4 -37.3L62.3 -37.3L56.1 -22.0L65.8 -22.0Q74.0 -22.0 71.6 -13.0L70.5 -8.9Q68.1 0.0 59.9 -0.0L50.2 0.0M95.3 -21.6L100.8 -42.1M88.0 -26.5L108.1 -37.3M90.9 -37.3L105.2 -26.5" stroke-width="3.91" stroke-linecap="round" stroke-linejoin="round"/>
<clipPath id="c1"><path clip-rule="evenodd" d="M3131.4 531.6L4076.6 531.6L4076.6 590.2L4058 590.2L4058 708.2L3149 708.2L3149 590.2L3131.4 590.2Z M3367 531.6L3840 531.6L3840 602.5L3697.4 602.5L3697.4 708.2L3508.6 708.2L3508.6 602.5L3367 602.5Z"/></clipPath>
<path clip-path="url(#c1)" stroke-width="2" d="M2974 708.2L3150.6 531.6M3027.1 708.2L3203.7 531.6M3080.3 708.2L3256.9 531.6M3133.4 708.2L3310 531.6M3186.6 708.2L3363.2 531.6M3239.7 708.2L3416.3 531.6M3292.8 708.2L3469.4 531.6M3346 708.2L3522.6 531.6M3399.1 708.2L3575.7 531.6M3452.3 708.2L3628.9 531.6M3505.4 708.2L3682 531.6M3558.5 708.2L3735.1 531.6M3611.7 708.2L3788.3 531.6M3664.8 708.2L3841.4 531.6M3718 708.2L3894.6 531.6M3771.1 708.2L3947.7 531.6M3824.2 708.2L4000.8 531.6M3877.4 708.2L4054 531.6M3930.5 708.2L4107.1 531.6M3983.7 708.2L4160.3 531.6M4036.8 708.2L4213.4 531.6"/>
<clipPath id="c2"><path clip-rule="evenodd" d="M3367 531.6L3840 531.6L3840 602.5L3697.4 602.5L3697.4 708.2L3508.6 708.2L3508.6 602.5L3367 602.5Z M3532.5 531.6L3573.6 546L3573.6 708.2L3632.8 708.2L3632.8 546L3673.8 531.6Z"/></clipPath>
<path clip-path="url(#c2)" stroke-width="2" d="M3195.6 531.6L3372.2 708.2M3222.2 531.6L3398.8 708.2M3248.8 531.6L3425.4 708.2M3275.3 531.6L3451.9 708.2M3301.9 531.6L3478.5 708.2M3328.5 531.6L3505.1 708.2M3355.1 531.6L3531.7 708.2M3381.6 531.6L3558.2 708.2M3408.2 531.6L3584.8 708.2M3434.8 531.6L3611.4 708.2M3461.3 531.6L3637.9 708.2M3487.9 531.6L3664.5 708.2M3514.5 531.6L3691.1 708.2M3541.1 531.6L3717.7 708.2M3567.6 531.6L3744.2 708.2M3594.2 531.6L3770.8 708.2M3620.8 531.6L3797.4 708.2M3647.3 531.6L3823.9 708.2M3673.9 531.6L3850.5 708.2M3700.5 531.6L3877.1 708.2M3727 531.6L3903.6 708.2M3753.6 531.6L3930.2 708.2M3780.2 531.6L3956.8 708.2M3806.8 531.6L3983.4 708.2M3833.3 531.6L4009.9 708.2"/>
<clipPath id="c3"><path clip-rule="evenodd" d="M3149 708.2L4058 708.2L4058 885.4L4076.6 885.4L4076.6 1003.8L3131.4 1003.8L3131.4 885.4L3149 885.4Z M3497.6 708.2L3851.4 708.2L3849 745.2L3500 745.2Z M3710 745.2L3744.8 745.2L3744.8 1003.8L3710 1003.8Z"/></clipPath>
<path clip-path="url(#c3)" stroke-width="2" d="M2868.7 708.2L3164.3 1003.8M2921.8 708.2L3217.4 1003.8M2974.9 708.2L3270.5 1003.8M3028.1 708.2L3323.7 1003.8M3081.2 708.2L3376.8 1003.8M3134.4 708.2L3430 1003.8M3187.5 708.2L3483.1 1003.8M3240.6 708.2L3536.2 1003.8M3293.8 708.2L3589.4 1003.8M3346.9 708.2L3642.5 1003.8M3400.1 708.2L3695.7 1003.8M3453.2 708.2L3748.8 1003.8M3506.3 708.2L3801.9 1003.8M3559.5 708.2L3855.1 1003.8M3612.6 708.2L3908.2 1003.8M3665.8 708.2L3961.4 1003.8M3718.9 708.2L4014.5 1003.8M3772 708.2L4067.6 1003.8M3825.2 708.2L4120.8 1003.8M3878.3 708.2L4173.9 1003.8M3931.5 708.2L4227.1 1003.8M3984.6 708.2L4280.2 1003.8M4037.7 708.2L4333.3 1003.8"/>
<clipPath id="c4"><path clip-rule="evenodd" d="M3744.8 1003.8L4076.6 1003.8L4076.6 1216.7L3744.8 1216.7Z M3789.4 1110.9L3813 1069.5L4076.6 1069.5L4076.6 1150.8L3813 1150.8Z"/></clipPath>
<path clip-path="url(#c4)" stroke-width="2" d="M3579.3 1216.7L3792.2 1003.8M3632.4 1216.7L3845.3 1003.8M3685.6 1216.7L3898.5 1003.8M3738.7 1216.7L3951.6 1003.8M3791.9 1216.7L4004.8 1003.8M3845 1216.7L4057.9 1003.8M3898.1 1216.7L4111 1003.8M3951.3 1216.7L4164.2 1003.8M4004.4 1216.7L4217.3 1003.8M4057.6 1216.7L4270.5 1003.8"/>
<clipPath id="c5"><path clip-rule="evenodd" d="M3131.4 1216.7L4076.6 1216.7L4076.6 1334.5L3131.4 1334.5Z M3706.5 1216.7L3748.1 1216.7L3748.1 1293.9L3769 1293.9L3769 1334.5L3685.8 1334.5L3685.8 1293.9L3706.5 1293.9Z M3264 1266L3288 1266L3288 1357L3264 1357Z"/></clipPath>
<path clip-path="url(#c5)" stroke-width="2" d="M3058.3 1216.7L3176.1 1334.5M3111.5 1216.7L3229.3 1334.5M3164.6 1216.7L3282.4 1334.5M3217.7 1216.7L3335.5 1334.5M3270.9 1216.7L3388.7 1334.5M3324 1216.7L3441.8 1334.5M3377.2 1216.7L3495 1334.5M3430.3 1216.7L3548.1 1334.5M3483.4 1216.7L3601.2 1334.5M3536.6 1216.7L3654.4 1334.5M3589.7 1216.7L3707.5 1334.5M3642.9 1216.7L3760.7 1334.5M3696 1216.7L3813.8 1334.5M3749.1 1216.7L3866.9 1334.5M3802.3 1216.7L3920.1 1334.5M3855.4 1216.7L3973.2 1334.5M3908.6 1216.7L4026.4 1334.5M3961.7 1216.7L4079.5 1334.5M4014.8 1216.7L4132.6 1334.5M4068 1216.7L4185.8 1334.5"/>
<clipPath id="c6"><path clip-rule="evenodd" d="M3131.4 1334.5L4076.6 1334.5L4076.6 1358.7L3131.4 1358.7Z M3269 1334.5L3286 1334.5L3286 1357L3269 1357Z"/></clipPath>
<path clip-path="url(#c6)" stroke-width="2" d="M3120.6 1358.7L3144.8 1334.5M3147.2 1358.7L3171.4 1334.5M3173.7 1358.7L3197.9 1334.5M3200.3 1358.7L3224.5 1334.5M3226.9 1358.7L3251.1 1334.5M3253.4 1358.7L3277.6 1334.5M3280 1358.7L3304.2 1334.5M3306.6 1358.7L3330.8 1334.5M3333.2 1358.7L3357.4 1334.5M3359.7 1358.7L3383.9 1334.5M3386.3 1358.7L3410.5 1334.5M3412.9 1358.7L3437.1 1334.5M3439.4 1358.7L3463.6 1334.5M3466 1358.7L3490.2 1334.5M3492.6 1358.7L3516.8 1334.5M3519.2 1358.7L3543.4 1334.5M3545.7 1358.7L3569.9 1334.5M3572.3 1358.7L3596.5 1334.5M3598.9 1358.7L3623.1 1334.5M3625.4 1358.7L3649.6 1334.5M3652 1358.7L3676.2 1334.5M3678.6 1358.7L3702.8 1334.5M3705.1 1358.7L3729.3 1334.5M3731.7 1358.7L3755.9 1334.5M3758.3 1358.7L3782.5 1334.5M3784.8 1358.7L3809 1334.5M3811.4 1358.7L3835.6 1334.5M3838 1358.7L3862.2 1334.5M3864.6 1358.7L3888.8 1334.5M3891.1 1358.7L3915.3 1334.5M3917.7 1358.7L3941.9 1334.5M3944.3 1358.7L3968.5 1334.5M3970.8 1358.7L3995 1334.5M3997.4 1358.7L4021.6 1334.5M4024 1358.7L4048.2 1334.5M4050.6 1358.7L4074.8 1334.5"/>
<clipPath id="c7"><path clip-rule="evenodd" d="M3710 745.2L3744.8 745.2L3744.8 1299.8L3763.1 1299.8L3763.1 1334.5L3691.8 1334.5L3691.8 1299.8L3710 1299.8Z"/></clipPath>
<path clip-path="url(#c7)" stroke-width="2" d="M3107.7 1334.5L3697.2 745M3125.4 1334.5L3714.9 745M3143.1 1334.5L3732.6 745M3160.8 1334.5L3750.3 745M3178.5 1334.5L3768 745M3196.2 1334.5L3785.7 745M3213.9 1334.5L3803.4 745M3231.6 1334.5L3821.1 745M3249.3 1334.5L3838.8 745M3267 1334.5L3856.5 745M3284.7 1334.5L3874.2 745M3302.4 1334.5L3891.9 745M3320.1 1334.5L3909.6 745M3337.8 1334.5L3927.3 745M3355.5 1334.5L3945 745M3373.2 1334.5L3962.7 745M3390.9 1334.5L3980.4 745M3408.6 1334.5L3998.1 745M3426.3 1334.5L4015.8 745M3444 1334.5L4033.5 745M3461.7 1334.5L4051.2 745M3479.4 1334.5L4068.9 745M3497.1 1334.5L4086.6 745M3514.8 1334.5L4104.3 745M3532.5 1334.5L4122 745M3550.2 1334.5L4139.7 745M3567.9 1334.5L4157.4 745M3585.6 1334.5L4175.1 745M3603.3 1334.5L4192.8 745M3621 1334.5L4210.5 745M3638.7 1334.5L4228.2 745M3656.4 1334.5L4245.9 745M3674.1 1334.5L4263.6 745M3691.8 1334.5L4281.3 745M3709.5 1334.5L4299 745M3727.2 1334.5L4316.7 745M3744.9 1334.5L4334.4 745M3762.6 1334.5L4352.1 745"/>
<clipPath id="c8"><path clip-rule="evenodd" d="M3910 1076.2L3922.3 1062.1L4051 1062.1L4051 1073.5L4076.6 1073.5L4076.6 1039.9L4193.8 1039.9L4193.8 1005L4206 992.9L4358.8 992.9L4370.8 1005L4370.8 1217L4358.8 1229L4206 1229L4193.8 1217L4193.8 1180.9L4076.6 1180.9L4076.6 1146.7L4051 1146.7L4051 1157.6L3922.3 1157.6L3910 1145.5Z"/></clipPath>
<path clip-path="url(#c8)" stroke-width="2" d="M3680 990L3922 1232M3706.6 990L3948.6 1232M3733.2 990L3975.2 1232M3759.7 990L4001.7 1232M3786.3 990L4028.3 1232M3812.9 990L4054.9 1232M3839.4 990L4081.4 1232M3866 990L4108 1232M3892.6 990L4134.6 1232M3919.2 990L4161.1 1232M3945.7 990L4187.7 1232M3972.3 990L4214.3 1232M3998.9 990L4240.9 1232M4025.4 990L4267.4 1232M4052 990L4294 1232M4078.6 990L4320.6 1232M4105.1 990L4347.1 1232M4131.7 990L4373.7 1232M4158.3 990L4400.3 1232M4184.9 990L4426.9 1232M4211.4 990L4453.4 1232M4238 990L4480 1232M4264.6 990L4506.6 1232M4291.1 990L4533.1 1232M4317.7 990L4559.7 1232M4344.3 990L4586.3 1232M4370.8 990L4612.8 1232"/>
<path d="M3131.4 531.6L4076.6 531.6L4076.6 590.2L4058 590.2L4058 708.2L3149 708.2L3149 590.2L3131.4 590.2Z" stroke-width="4"/>
<path d="M3367 531.6L3367 602.5L3508.6 602.5L3508.6 708.2" stroke-width="4"/>
<path d="M3840 531.6L3840 602.5L3697.4 602.5L3697.4 708.2" stroke-width="4"/>
<path d="M3532.5 531.6L3573.6 546L3632.8 546L3673.8 531.6" stroke-width="4"/>
<path d="M3573.6 546L3573.6 708.2" stroke-width="4"/>
<path d="M3632.8 546L3632.8 708.2" stroke-width="4"/>
<path d="M3697.4 618L3713 602.5" stroke-width="2"/>
<path d="M3826 531.6L3840 545" stroke-width="2"/>
<path d="M3149 708.2L4058 708.2L4058 885.4L4076.6 885.4L4076.6 1003.8L3131.4 1003.8L3131.4 885.4L3149 885.4Z" stroke-width="4"/>
<path d="M3497.6 708.2L3500 745.2L3849 745.2L3851.4 708.2" stroke-width="4"/>
<path d="M3603.8 708.2L3603.8 745.2" stroke-width="5"/>
<path d="M3710 708.2L3710 1299.8" stroke-width="4"/>
<path d="M3744.8 708.2L3744.8 1299.8" stroke-width="4"/>
<path d="M3710 1299.8L3691.8 1299.8L3691.8 1334.5" stroke-width="4"/>
<path d="M3744.8 1299.8L3763.1 1299.8L3763.1 1334.5" stroke-width="4"/>
<path d="M3131.4 1003.8L4076.6 1003.8" stroke-width="4"/>
<path d="M3194.5 1003.8L3131.4 1041L3131.4 1181.1L3191.8 1216.7" stroke-width="4"/>
<path d="M3695.1 1003.8L3695.1 1216.7" stroke-width="4"/>
<path d="M4076.6 1003.8L4076.6 1073.5" stroke-width="4"/>
<path d="M4076.6 1146.7L4076.6 1216.7" stroke-width="4"/>
<path d="M3744.8 1216.7L4076.6 1216.7" stroke-width="4"/>
<path d="M3813 1069.5L3789.4 1110.9L3813 1150.8" stroke-width="4"/>
<path d="M3813 1069.5L3813 1150.8" stroke-width="4"/>
<path d="M3813 1069.5L3912 1069.5" stroke-width="4"/>
<path d="M3813 1150.8L3912 1150.8" stroke-width="4"/>
<path d="M3863.2 1062.7L3863.2 1158.4" stroke-width="4"/>
<path d="M3866.5 1062.7L3866.5 1158.4" stroke-width="1.5"/>
<path d="M3863.2 1062.7L4064.5 1062.7" stroke-width="2"/>
<path d="M3863.2 1158.4L4064.5 1158.4" stroke-width="2"/>
<path d="M4064.5 1073.5L4076.6 1062.7" stroke-width="2"/>
<path d="M4064.5 1146.7L4076.6 1157.6" stroke-width="2"/>
<path d="M3910 1076.2L3922.3 1062.1L4051 1062.1L4051 1073.5L4076.6 1073.5L4076.6 1039.9L4193.8 1039.9L4193.8 1005L4206 992.9L4358.8 992.9L4370.8 1005L4370.8 1217L4358.8 1229L4206 1229L4193.8 1217L4193.8 1180.9L4076.6 1180.9L4076.6 1146.7L4051 1146.7L4051 1157.6L3922.3 1157.6L3910 1145.5Z" stroke-width="4"/>
<path d="M3910 1068L4051 1068" stroke-width="2"/>
<path d="M3910 1152L4051 1152" stroke-width="2"/>
<path d="M3131.4 1216.7L3131.4 1358.7L4076.6 1358.7L4076.6 1216.7" stroke-width="4"/>
<path d="M3131.4 1216.7L3706.5 1216.7" stroke-width="4"/>
<path d="M3131.4 1334.5L4076.6 1334.5" stroke-width="4"/>
<path d="M3706.5 1216.7L3706.5 1293.9L3685.8 1293.9L3685.8 1334.5" stroke-width="4"/>
<path d="M3748.1 1216.7L3748.1 1293.9L3769 1293.9L3769 1334.5" stroke-width="4"/>
<path d="M3603.7 507L3603.7 640" stroke-width="2"/>
<path d="M3603.7 652L3603.7 668" stroke-width="2"/>
<path d="M3603.7 680L3603.7 706" stroke-width="2"/>
<path d="M3727.6 725L3727.6 880" stroke-width="1.5"/>
<path d="M3727.6 893L3727.6 909" stroke-width="1.5"/>
<path d="M3727.6 921L3727.6 1060" stroke-width="1.5"/>
<path d="M3727.6 1073L3727.6 1089" stroke-width="1.5"/>
<path d="M3727.6 1101L3727.6 1240" stroke-width="1.5"/>
<path d="M3727.6 1253L3727.6 1269" stroke-width="1.5"/>
<path d="M3727.6 1281L3727.6 1358" stroke-width="1.5"/>
<path d="M3765 1110.9L3768 1110.9" stroke-width="2"/>
<path d="M3781 1110.9L3980 1110.9" stroke-width="2"/>
<path d="M3993 1110.9L4009 1110.9" stroke-width="2"/>
<path d="M4021 1110.9L4210 1110.9" stroke-width="2"/>
<path d="M4222 1110.9L4238 1110.9" stroke-width="2"/>
<path d="M4250 1110.9L4404 1110.9" stroke-width="2"/>
<path d="M3532.5 531.6L3338.7 461" stroke-width="2"/>
<path d="M3673.8 531.6L3869.8 461" stroke-width="2"/>
<path d="M3349.7 465.2A270.3 270.3 0 0 1 3857.7 465.2" stroke-width="2"/>
<path d="M3349.7 465.2L3356.8 425.2L3361.3 433.2L3370 430Z" fill="#000" stroke="none"/>
<path d="M3857.7 465.2L3837.4 430L3846.1 433.2L3850.6 425.2Z" fill="#000" stroke="none"/>
<path d="M3532.5 531.6L3532.5 369.6" stroke-width="2"/>
<path d="M3673.8 531.6L3673.8 369.6" stroke-width="2"/>
<path d="M3458 381.8L3750 381.8" stroke-width="2"/>
<path d="M3532.5 381.8L3492.5 388.8L3498.5 381.8L3492.5 374.8Z" fill="#000" stroke="none"/>
<path d="M3673.8 381.8L3713.8 374.8L3707.8 381.8L3713.8 388.8Z" fill="#000" stroke="none"/>
<circle cx="3581" cy="343.3" r="21.9" stroke-width="1.6"/>
<path d="M3567.3 374.4L3593.3 312.5" stroke-width="1.6"/>
<path transform="translate(3628.1 359.9) rotate(0) translate(-5.2 -2)" d="M7.2 -26.8L18.9 -37.3L8.9 0.0M27.9 -30.6L27.9 -30.6Q29.7 -37.3 35.7 -37.3L38.9 -37.3Q46.2 -37.3 44.0 -29.1L43.4 -26.8Q41.8 -20.9 37.2 -16.5L19.7 0.0L36.2 0.0" stroke-width="3.91" stroke-linecap="round" stroke-linejoin="round"/>
<path d="M3573.6 546L3573.6 470.6" stroke-width="2"/>
<path d="M3632.8 546L3632.8 470.6" stroke-width="2"/>
<path d="M3499.2 482.1L3708.8 482.1" stroke-width="2"/>
<path d="M3573.6 482.1L3533.6 489.1L3539.6 482.1L3533.6 475.1Z" fill="#000" stroke="none"/>
<path d="M3632.8 482.1L3672.8 475.1L3666.8 482.1L3672.8 489.1Z" fill="#000" stroke="none"/>
<circle cx="3591.8" cy="443.3" r="21.9" stroke-width="1.6"/>
<path d="M3578.5 474.7L3604.4 412.2" stroke-width="1.6"/>
<path transform="translate(3632.2 460.3) rotate(0) translate(2 -2)" d="M25.0 -37.3L11.8 -37.3L5.9 -22.0L14.3 -22.0Q21.5 -22.0 19.1 -13.0L18.0 -8.9Q15.6 0.0 8.4 -0.0L0.0 0.0" stroke-width="3.91" stroke-linecap="round" stroke-linejoin="round"/>
<path transform="translate(3561.9 269) rotate(0) translate(-5.2 -2)" d="M7.2 -26.8L20.1 -37.3L10.1 0.0M44.7 -37.3L25.4 -11.2L44.9 -11.2M43.1 -20.9L37.6 0.0M63.2 0.0L63.2 -0.0Q72.2 0.0 74.7 -9.3L79.7 -28.0Q82.2 -37.3 73.2 -37.3L73.2 -37.3Q64.2 -37.3 61.7 -28.0L56.7 -9.3Q54.2 0.0 63.2 -0.0L63.2 0.0M96.6 -27.6L96.8 -27.6Q101.3 -27.6 102.5 -32.2L102.6 -32.6Q103.9 -37.3 99.4 -37.3L99.0 -37.3Q94.5 -37.3 93.2 -32.6L93.1 -32.2Q91.9 -27.6 96.4 -27.6L96.6 -27.6" stroke-width="3.91" stroke-linecap="round" stroke-linejoin="round"/>
<path transform="translate(3433.8 131.8) rotate(0) translate(2 -2)" d="M28.3 -37.3L18.4 -37.3Q10.0 -37.3 7.7 -28.7L2.3 -8.6Q0.0 0.0 8.4 -0.0L18.4 0.0M59.2 -37.3L40.8 -37.3L30.8 0.0L49.2 0.0M36.1 -19.8L51.6 -19.8M71.7 -37.3L68.4 -25.0Q66.3 -17.1 74.0 -17.1L86.8 -17.1M92.2 -37.3L82.2 0.0M123.1 -37.3L104.7 -37.3L94.7 0.0L113.1 0.0M100.0 -19.8L115.4 -19.8M125.6 0.0L135.5 -37.3M146.8 0.0L156.8 -37.3M130.7 -19.4L152.0 -19.4M169.3 -37.3L159.3 0.0L190.6 -37.3L180.6 0.0M221.4 -37.3L203.1 -37.3L193.1 0.0L211.5 0.0M198.4 -19.8L213.8 -19.8M251.5 0.0L272.8 -37.3L274.2 0.0M258.7 -12.7L273.8 -12.7M290.7 -14.9L310.5 -14.9M319.0 0.0L340.4 -37.3L341.8 0.0M326.3 -12.7L341.3 -12.7" stroke-width="3.91" stroke-linecap="round" stroke-linejoin="round"/>
<path transform="translate(3414.6 189.8) rotate(0) translate(2 -2)" d="M0.0 0.0L10.0 -37.3L17.0 -16.4L35.1 -37.3L25.2 0.0M37.7 0.0L59.2 -37.3L60.7 0.0M45.0 -12.7L60.2 -12.7M101.7 -37.3L91.8 -37.3Q83.2 -37.3 80.9 -28.7L75.6 -8.6Q73.3 0.0 81.8 -0.0L91.8 0.0M114.3 -37.3L104.3 0.0L132.5 0.0L142.4 -37.3M118.4 0.0L128.4 -37.3M155.0 -37.3L177.2 -37.3M166.1 -37.3L156.1 0.0M179.8 0.0L201.3 -37.3L202.8 0.0M187.1 -12.7L202.3 -12.7M244.6 -37.3L225.3 -37.3L215.3 0.0L228.3 -0.0Q236.1 0.0 238.1 -7.8L239.5 -13.0Q241.6 -20.9 233.9 -20.9L220.9 -20.9M283.6 -26.8L296.7 -37.3L286.7 0.0M327.4 -1.1L327.7 -1.1M332.3 -19.4L332.6 -19.4M375.3 -26.8L388.5 -37.3L378.5 0.0" stroke-width="3.91" stroke-linecap="round" stroke-linejoin="round"/>
<path d="M3085 457L3085 1403.5" stroke-width="2"/>
<path d="M3073 531.6L3131.4 531.6" stroke-width="2"/>
<path d="M3073 708.2L3149 708.2" stroke-width="2"/>
<path d="M3073 1003.8L3131.4 1003.8" stroke-width="2"/>
<path d="M3073 1216.7L3131.4 1216.7" stroke-width="2"/>
<path d="M3073 1334.5L3131.4 1334.5" stroke-width="2"/>
<path d="M3085 531.6L3078 491.6L3085 497.6L3092 491.6Z" fill="#000" stroke="none"/>
<path d="M3085 708.2L3092 748.2L3085 742.2L3078 748.2Z" fill="#000" stroke="none"/>
<path d="M3085 1003.8L3078 963.8L3085 969.8L3092 963.8Z" fill="#000" stroke="none"/>
<path d="M3085 1003.8L3092 1043.8L3085 1037.8L3078 1043.8Z" fill="#000" stroke="none"/>
<path d="M3085 1216.7L3078 1176.7L3085 1182.7L3092 1176.7Z" fill="#000" stroke="none"/>
<path d="M3085 1334.5L3092 1374.5L3085 1368.5L3078 1374.5Z" fill="#000" stroke="none"/>
<path transform="translate(3067.1 628.2) rotate(-90) translate(-5.2 -2)" d="M7.2 -26.8L19.0 -37.3L9.0 0.0M45.9 -37.3L31.8 -37.3L25.8 -22.0L34.7 -22.0Q42.4 -22.0 40.0 -13.0L38.9 -8.9Q36.5 0.0 28.8 -0.0L19.9 0.0" stroke-width="3.91" stroke-linecap="round" stroke-linejoin="round"/>
<path transform="translate(3067.1 895.9) rotate(-90) translate(2 -2)" d="M8.2 -30.6L8.2 -30.6Q10.0 -37.3 17.1 -37.3L20.8 -37.3Q29.3 -37.3 27.1 -29.1L26.5 -26.8Q24.9 -20.9 19.7 -16.5L0.0 0.0L19.3 0.0M60.6 -37.3L44.2 -37.3L37.9 -22.0L48.3 -22.0Q57.2 -22.0 54.8 -13.0L53.7 -8.9Q51.3 0.0 42.4 -0.0L32.0 0.0" stroke-width="3.91" stroke-linecap="round" stroke-linejoin="round"/>
<path transform="translate(3067.1 1101.6) rotate(-90) translate(-5.2 -2)" d="M7.2 -26.8L19.3 -37.3L9.3 0.0M34.5 -20.1L35.2 -20.1Q41.8 -20.1 43.8 -27.6L44.4 -29.8Q46.4 -37.3 39.8 -37.3L38.4 -37.3Q31.8 -37.3 29.8 -29.8L29.2 -27.6Q27.2 -20.1 33.8 -20.1L34.5 -20.1M29.1 0.0L30.4 -0.0Q37.7 0.0 39.9 -8.2L40.9 -11.9Q43.1 -20.1 35.8 -20.1L33.2 -20.1Q25.9 -20.1 23.7 -11.9L22.7 -8.2Q20.5 0.0 27.8 -0.0L29.1 0.0" stroke-width="3.91" stroke-linecap="round" stroke-linejoin="round"/>
<path transform="translate(3067.1 1285.1) rotate(-90) translate(-5.2 -2)" d="M7.2 -26.8L19.0 -37.3L9.0 0.0M27.9 0.0L27.9 -0.0Q35.9 0.0 38.4 -9.3L43.4 -28.0Q45.9 -37.3 37.9 -37.3L37.9 -37.3Q29.9 -37.3 27.4 -28.0L22.4 -9.3Q19.9 0.0 27.9 -0.0L27.9 0.0" stroke-width="3.91" stroke-linecap="round" stroke-linejoin="round"/>
<path d="M3276 1260L3276 1428.5" stroke-width="2"/>
<path d="M3276 1334.5L3269 1294.5L3276 1300.5L3283 1294.5Z" fill="#000" stroke="none"/>
<path d="M3276 1358.7L3283 1398.7L3276 1392.7L3269 1398.7Z" fill="#000" stroke="none"/>
<path transform="translate(3257.8 1422.3) rotate(-90) translate(2 -2)" d="M8.2 -30.6L8.2 -30.6Q10.0 -37.3 15.2 -37.3L18.0 -37.3Q24.4 -37.3 22.2 -29.1L21.6 -26.8Q20.0 -20.9 15.8 -16.5L0.0 0.0L14.4 0.0" stroke-width="3.91" stroke-linecap="round" stroke-linejoin="round"/>
<g stroke-linejoin="round" stroke-linecap="round">
<path d="M3125.9 1783.1L3126.4 1773.2L3126.5 1770.7L3126.9 1768L3127.6 1765.3L3128.6 1762.5L3129.7 1759.8L3131.1 1757.1L3132.7 1754.6L3134.5 1752.2L3136.4 1750L3138.4 1748.1L3140.5 1746.4L3142.7 1745L3151 1739.7L3154.3 1738L3157.5 1736.9L3160.6 1736.4L3163.5 1736.3L3166.2 1736.9L3168.7 1737.9L3494.3 1925.9L3496.5 1927.5L3498.3 1929.6L3499.7 1932.2L3500.8 1935.1L3501.4 1938.5L3501.6 1942.1L3501.4 1946L3500.8 1950.1L3499.7 1954.3L3498.3 1958.5L3496.5 1962.7L3494.3 1966.8L3491.8 1970.7L3489.1 1974.4L3486.2 1977.8L3483.1 1980.8L3479.9 1983.4L3476.6 1985.5L3473.3 1987.2L3470.1 1988.3L3467 1988.8L3464.1 1988.9L3461.3 1988.3L3458.9 1987.3L3133.3 1799.3L3131.1 1797.7L3129.3 1795.6L3127.9 1793L3126.8 1790.1L3126.2 1786.7Z" stroke-width="3" fill="#fff"/>
<path d="M3168.7 1737.9L3167.5 1737.3L3166.2 1736.9L3164.9 1736.5L3163.5 1736.3L3162.1 1736.3L3160.6 1736.4L3159 1736.6L3157.5 1736.9L3155.9 1737.4L3154.3 1738.1L3152.6 1738.8L3151 1739.7L3149.4 1740.7L3147.7 1741.8L3146.1 1743.1L3144.5 1744.4L3142.9 1745.9L3141.4 1747.4L3139.9 1749.1L3138.5 1750.8L3137.1 1752.6L3135.8 1754.5L3134.5 1756.4L3133.3 1758.4L3132.2 1760.4L3131.1 1762.5L3130.2 1764.6L3129.3 1766.7L3128.5 1768.8L3127.9 1770.9L3127.3 1773L3126.8 1775.1L3126.4 1777.2L3126.2 1779.2L3126 1781.1L3126 1783.1L3126 1784.9L3126.2 1786.7L3126.4 1788.4L3126.8 1790.1L3127.3 1791.6L3127.9 1793L3128.5 1794.4L3129.3 1795.6L3130.2 1796.7L3131.1 1797.7L3132.2 1798.5L3133.3 1799.3" stroke-width="3"/>
<path d="M3409.8 1862.6L3743.7 1669.8L4369.9 2031.3L4369.9 2055.4L4363.6 2059L4363.6 2179.5L4369.9 2175.9L4369.9 2368.7L4035.9 2561.5L3409.8 2200L3409.8 2007.2L3416.1 2003.6L3416.1 1890.3L3409.8 1886.7Z" stroke-width="3" fill="#fff" stroke="none"/>
<path d="M4369.9 2296.4L4369.9 2175.9L4363.6 2179.5L4363.6 2059L4369.9 2055.4L4369.9 2031.3L3743.7 1669.8L3409.8 1862.6L3409.8 1886.7L3416.1 1890.3L3416.1 2003.6L3409.8 2007.2L3409.8 2200L4035.9 2561.5L4369.9 2368.7L4369.9 2310.9" stroke-width="3"/>
<path d="M3409.8 1862.6L4035.9 2224.1L4369.9 2031.3" stroke-width="3"/>
<path d="M3409.8 1886.7L4035.9 2248.2" stroke-width="3"/>
<path d="M4035.9 2224.1L4035.9 2248.2L4042.2 2244.6L4042.2 2365.1L4035.9 2368.7L4035.9 2561.5" stroke-width="3"/>
<path d="M3416.1 1931.3L4042.2 2292.8" stroke-width="3"/>
<path d="M3416.1 2003.6L4042.2 2365.1" stroke-width="3"/>
<path d="M3409.8 2007.2L4035.9 2368.7" stroke-width="3"/>
<path d="M3409.8 2055.4L4035.9 2416.9" stroke-width="3"/>
<path d="M3409.8 2142.2L4035.9 2503.7" stroke-width="3"/>
<path d="M3409.8 2190.4L4035.9 2551.9" stroke-width="3"/>
<path d="M3520.4 1991.5L3520.4 1999.7L3562.2 2023.8L3562.2 2015.6" stroke-width="3"/>
<path d="M3526.4 1999.2L3559.2 2018.1" stroke-width="2"/>
<path d="M3896.1 2208.4L3896.1 2216.6L3937.8 2240.7L3937.8 2232.5" stroke-width="3"/>
<path d="M3902.1 2216.1L3934.8 2235" stroke-width="2"/>
<path d="M4042.2 2292.8L4119.4 2248.2" stroke-width="3"/>
<path d="M4286.4 2151.8L4363.6 2107.2" stroke-width="3"/>
<path d="M4119.4 2241L4286.4 2144.6L4286.4 2160.5L4119.4 2256.7Z" stroke-width="3"/>
<path d="M4274.2 2153.3L4283.1 2158.8" stroke-width="3"/>
<path d="M4035.9 2416.9L4369.9 2224.1" stroke-width="3"/>
<path d="M4035.9 2503.7L4369.9 2310.9" stroke-width="3"/>
<path d="M4369.9 2296.4L4347.5 2323.8" stroke-width="3"/>
<path d="M4035.9 2551.9L4369.9 2359.1" stroke-width="3"/>
<ellipse cx="3484.9" cy="1867.4" rx="24" ry="13.6" stroke-width="3"/>
<ellipse cx="4027.6" cy="2180.7" rx="24" ry="13.6" stroke-width="3"/>
<ellipse cx="3889.8" cy="1946.9" rx="118.2" ry="68.2" stroke-width="3"/>
<ellipse cx="3889.8" cy="1947.9" rx="115.6" ry="66.2" stroke-width="3"/>
<ellipse cx="3889.8" cy="1946.9" rx="35.4" ry="20.6" stroke-width="3"/>
<ellipse cx="3889.8" cy="1952.9" rx="15" ry="8.6" stroke-width="3"/>
<path d="M4345.8 2157.3L4344.6 2156.7L4343.4 2156.2L4342 2155.9L4340.7 2155.7L4339.2 2155.6L4337.7 2155.7L4336.2 2155.9L4334.6 2156.3L4333 2156.8L4331.4 2157.4L4329.8 2158.1L4328.1 2159L4326.5 2160L4324.9 2161.2L4323.2 2162.4L4321.7 2163.8L4320.1 2165.2L4318.5 2166.8L4317.1 2168.4L4315.6 2170.1L4314.2 2171.9L4312.9 2173.8L4311.6 2175.7L4310.4 2177.7L4309.3 2179.8L4308.3 2181.8L4307.3 2183.9L4306.4 2186L4305.7 2188.1L4305 2190.2L4304.4 2192.3L4303.9 2194.4L4303.6 2196.5L4303.3 2198.5L4303.1 2200.5L4303.1 2202.4L4303.1 2204.3L4303.3 2206.1L4303.6 2207.8L4303.9 2209.4L4304.4 2210.9L4305 2212.4L4305.7 2213.7L4306.4 2214.9L4307.3 2216L4308.3 2217L4309.3 2217.9L4310.4 2218.6L4636 2406.6L4637.2 2407.2L4638.5 2407.7L4639.8 2408L4641.2 2408.2L4642.6 2408.3L4644.1 2408.2L4645.7 2408L4647.2 2407.6L4648.8 2407.1L4650.5 2406.5L4652.1 2405.7L4653.7 2404.8L4655.4 2403.8L4657 2402.7L4658.6 2401.5L4660.2 2400.1L4661.8 2398.7L4663.3 2397.1L4664.8 2395.5L4666.2 2393.7L4667.6 2391.9L4669 2390.1L4670.2 2388.1L4671.4 2386.2L4672.6 2384.1L4673.6 2382.1L4674.5 2380L4675.4 2377.9L4676.2 2375.8L4676.9 2373.6L4677.4 2371.5L4677.9 2369.4L4678.3 2367.4L4678.6 2365.4L4678.7 2363.4L4678.8 2361.5L4678.7 2359.6L4678.6 2357.8L4678.3 2356.1L4677.9 2354.5L4677.4 2352.9L4676.9 2351.5L4676.2 2350.2L4675.4 2348.9L4674.5 2347.8L4673.6 2346.9L4672.6 2346L4671.4 2345.3Z" stroke-width="3" fill="#fff"/>
<path d="M4636 2406.6L4638.5 2407.7L4641.2 2408.2L4644.1 2408.2L4647.2 2407.6L4650.5 2406.5L4653.7 2404.8L4657 2402.7L4660.2 2400.1L4663.3 2397.1L4666.2 2393.7L4669 2390.1L4671.4 2386.2L4673.6 2382.1L4675.4 2377.9L4676.9 2373.6L4677.9 2369.4L4678.6 2365.4L4678.8 2361.5L4678.6 2357.8L4677.9 2354.5L4676.9 2351.5L4675.4 2348.9L4673.6 2346.9L4671.4 2345.3L4669 2344.2L4666.2 2343.7L4663.3 2343.7L4660.2 2344.3L4657 2345.4L4653.7 2347L4650.5 2349.1L4647.2 2351.7L4644.1 2354.7L4641.2 2358.1L4638.5 2361.8L4636 2365.7L4633.9 2369.8L4632 2374L4630.6 2378.2L4629.5 2382.4L4628.9 2386.5L4628.7 2390.4L4628.9 2394L4629.5 2397.4L4630.6 2400.4L4632 2402.9L4633.9 2405L4636 2406.6Z" stroke-width="3" fill="#fff"/>
<path d="M4650.6 2400.7L4652.2 2401.4L4653.9 2401.7L4655.8 2401.7L4657.9 2401.3L4659.9 2400.6L4662.1 2399.5L4664.2 2398.2L4666.3 2396.5L4668.3 2394.5L4670.2 2392.3L4672 2389.9L4673.6 2387.4L4675 2384.7L4676.2 2382L4677.1 2379.3L4677.8 2376.5L4678.2 2373.9L4678.4 2371.4L4678.2 2369L4677.8 2366.8L4677.1 2364.9L4676.2 2363.2L4675 2361.8L4673.6 2360.8L4672 2360.1L4670.2 2359.8L4668.3 2359.8L4666.3 2360.2L4664.2 2360.9L4662.1 2362L4659.9 2363.3L4657.9 2365L4655.8 2367L4653.9 2369.2L4652.2 2371.6L4650.6 2374.1L4649.2 2376.8L4648 2379.5L4647 2382.2L4646.3 2385L4645.9 2387.6L4645.8 2390.1L4645.9 2392.5L4646.3 2394.7L4647 2396.6L4648 2398.3L4649.2 2399.7L4650.6 2400.7Z" stroke-width="3"/>
<path d="M3740.6 2310.2L3741.7 2309.5L3742.7 2308.6L3743.7 2307.6L3744.6 2306.5L3745.3 2305.3L3746 2304L3746.6 2302.5L3747.1 2301L3747.4 2299.4L3747.7 2297.6L3747.9 2295.9L3747.9 2294L3747.9 2292.1L3747.7 2290.1L3747.4 2288.1L3747.1 2286L3746.6 2283.9L3746 2281.8L3745.3 2279.7L3744.6 2277.6L3743.7 2275.5L3742.7 2273.4L3741.7 2271.3L3740.6 2269.3L3739.4 2267.3L3738.1 2265.4L3736.8 2263.5L3735.4 2261.7L3733.9 2260L3732.5 2258.3L3730.9 2256.8L3729.4 2255.3L3727.8 2254L3726.1 2252.7L3724.5 2251.6L3722.9 2250.6L3721.2 2249.7L3719.6 2249L3718 2248.3L3716.4 2247.9L3714.8 2247.5L3713.3 2247.3L3711.8 2247.2L3710.3 2247.3L3709 2247.5L3707.6 2247.8L3706.4 2248.3L3705.2 2248.9L3663.4 2273L3698.8 2334.3Z" stroke-width="3" fill="#fff"/>
<path d="M3580.9 2313.3L3581 2310.2L3581.3 2307.2L3581.8 2304.3L3582.4 2301.6L3583.2 2299.1L3584.1 2296.7L3585.2 2294.4L3586.5 2292.4L3588 2290.6L3589.6 2288.9L3591.3 2287.5L3593.2 2286.2L3647.4 2254.9L3649.4 2253.9L3651.5 2253.1L3653.8 2252.6L3656.1 2252.2L3658.5 2252.2L3661 2252.3L3663.5 2252.7L3666.2 2253.2L3668.8 2254.1L3671.5 2255.1L3674.2 2256.4L3676.9 2257.8L3681.1 2260.2L3683.6 2261.8L3686 2263.4L3688.4 2265.3L3690.8 2267.3L3693.2 2269.5L3695.5 2271.8L3697.7 2274.3L3699.9 2276.9L3702 2279.6L3704 2282.4L3705.9 2285.3L3707.7 2288.3L3709.4 2291.3L3710.9 2294.4L3712.4 2297.6L3713.7 2300.7L3714.8 2303.9L3715.8 2307.1L3716.7 2310.2L3717.4 2313.3L3718 2316.4L3718.4 2319.5L3718.6 2322.4L3718.7 2325.3L3718.7 2330.1L3718.6 2333.2L3718.3 2336.2L3717.9 2339.1L3717.3 2341.8L3716.5 2344.3L3715.5 2346.8L3714.4 2349L3713.1 2351L3711.7 2352.9L3710.1 2354.5L3708.3 2355.9L3706.5 2357.2L3652.2 2388.5L3650.2 2389.5L3648.1 2390.3L3645.9 2390.8L3643.6 2391.2L3641.2 2391.3L3638.7 2391.1L3636.1 2390.8L3633.5 2390.2L3630.8 2389.3L3628.1 2388.3L3625.4 2387L3622.7 2385.6L3618.5 2383.2L3616.1 2381.7L3613.6 2380L3611.2 2378.1L3608.8 2376.1L3606.4 2373.9L3604.1 2371.6L3601.9 2369.1L3599.7 2366.5L3597.6 2363.8L3595.6 2361L3593.7 2358.1L3591.9 2355.1L3590.3 2352.1L3588.7 2349L3587.3 2345.8L3586 2342.7L3584.8 2339.5L3583.8 2336.3L3582.9 2333.2L3582.2 2330.1L3581.7 2327L3581.3 2323.9L3581 2321L3580.9 2318.1Z" stroke-width="3" fill="#fff"/>
<path d="M3706.5 2357.2L3708.3 2355.9L3710.1 2354.5L3711.7 2352.9L3713.1 2351L3714.4 2349L3715.5 2346.8L3716.5 2344.4L3717.3 2341.8L3717.9 2339.1L3718.3 2336.2L3718.6 2333.2L3718.7 2330.1L3718.6 2326.9L3718.3 2323.6L3717.9 2320.3L3717.3 2316.8L3716.5 2313.4L3715.5 2309.9L3714.4 2306.3L3713.1 2302.8L3711.7 2299.3L3710.1 2295.8L3708.3 2292.4L3706.5 2289L3704.5 2285.7L3702.4 2282.5L3700.1 2279.4L3697.8 2276.3L3695.4 2273.5L3692.9 2270.7L3690.4 2268.1L3687.8 2265.7L3685.1 2263.5L3682.4 2261.4L3679.7 2259.5L3677 2257.8L3674.2 2256.4L3671.5 2255.1L3668.8 2254.1L3666.1 2253.2L3663.5 2252.7L3661 2252.3L3658.5 2252.2L3656.1 2252.2L3653.8 2252.6L3651.5 2253.1L3649.4 2253.9L3647.4 2254.9" stroke-width="3"/>
<path d="M3715.2 2341.6L3715.9 2340L3716.6 2338.4L3717.2 2336.6L3717.7 2334.7L3718.1 2332.8L3718.4 2330.8L3718.6 2328.7L3718.7 2326.6L3718.7 2324.4L3718.6 2322.1L3718.4 2319.8L3718.1 2317.5L3717.7 2315.1L3717.3 2312.7L3716.7 2310.2L3716 2307.8L3715.3 2305.3L3714.4 2302.8L3713.5 2300.4L3712.5 2297.9L3711.4 2295.5L3710.3 2293L3709 2290.7L3707.7 2288.3L3706.3 2286L3704.9 2283.7L3703.3 2281.5L3701.8 2279.3L3700.1 2277.2L3698.5 2275.2L3696.8 2273.2L3695 2271.3L3693.2 2269.5L3691.4 2267.8L3689.5 2266.2L3687.6 2264.7L3685.8 2263.3L3683.9 2261.9L3681.9 2260.7L3680 2259.6L3678.1 2258.7L3676.2 2257.8L3674.3 2257L3672.5 2256.4L3670.6 2255.9L3668.8 2255.5L3667 2255.3L3665.2 2255.1" stroke-width="3"/>
<path d="M3652.2 2388.5L3655.8 2385.8L3658.8 2382.3L3661.3 2378.1L3663 2373.1L3664.1 2367.6L3664.4 2361.5L3664.1 2355L3663 2348.2L3661.3 2341.2L3658.8 2334.1L3655.8 2327.1L3652.2 2320.3L3648.1 2313.8L3643.6 2307.7L3638.7 2302.1L3633.5 2297.1L3628.1 2292.7L3622.7 2289.2L3617.2 2286.4L3611.9 2284.6L3606.7 2283.6L3601.8 2283.6L3597.3 2284.5L3593.2 2286.2L3589.6 2288.9L3586.5 2292.4L3584.1 2296.7L3582.4 2301.6L3581.3 2307.2L3580.9 2313.3L3581.3 2319.8L3582.4 2326.6L3584.1 2333.5L3586.5 2340.6L3589.6 2347.6L3593.2 2354.4L3597.3 2360.9L3601.8 2367.1L3606.7 2372.7L3611.9 2377.7L3617.2 2382L3622.7 2385.6L3628.1 2388.3L3633.5 2390.2L3638.7 2391.1L3643.6 2391.2L3648.1 2390.3L3652.2 2388.5Z" stroke-width="3"/>
<path d="M3645.1 2385.8L3648.3 2383.4L3651 2380.3L3653.2 2376.4L3654.8 2372L3655.8 2366.9L3656.1 2361.5L3655.8 2355.6L3654.8 2349.5L3653.2 2343.2L3651 2336.9L3648.3 2330.6L3645.1 2324.4L3641.4 2318.6L3637.3 2313.1L3632.9 2308L3628.2 2303.5L3623.4 2299.6L3618.5 2296.4L3613.6 2293.9L3608.8 2292.3L3604.1 2291.4L3599.7 2291.4L3595.6 2292.2L3591.9 2293.8L3588.7 2296.2L3586 2299.3L3583.8 2303.1L3582.2 2307.6L3581.3 2312.6L3580.9 2318.1L3581.3 2323.9L3582.2 2330.1L3583.8 2336.3L3586 2342.7L3588.7 2349L3591.9 2355.1L3595.6 2361L3599.7 2366.5L3604.1 2371.6L3608.8 2376.1L3613.6 2380L3618.5 2383.2L3623.4 2385.6L3628.2 2387.3L3632.9 2388.2L3637.3 2388.2L3641.4 2387.4L3645.1 2385.8Z" stroke-width="3"/>
</g>
</svg></body></html>
